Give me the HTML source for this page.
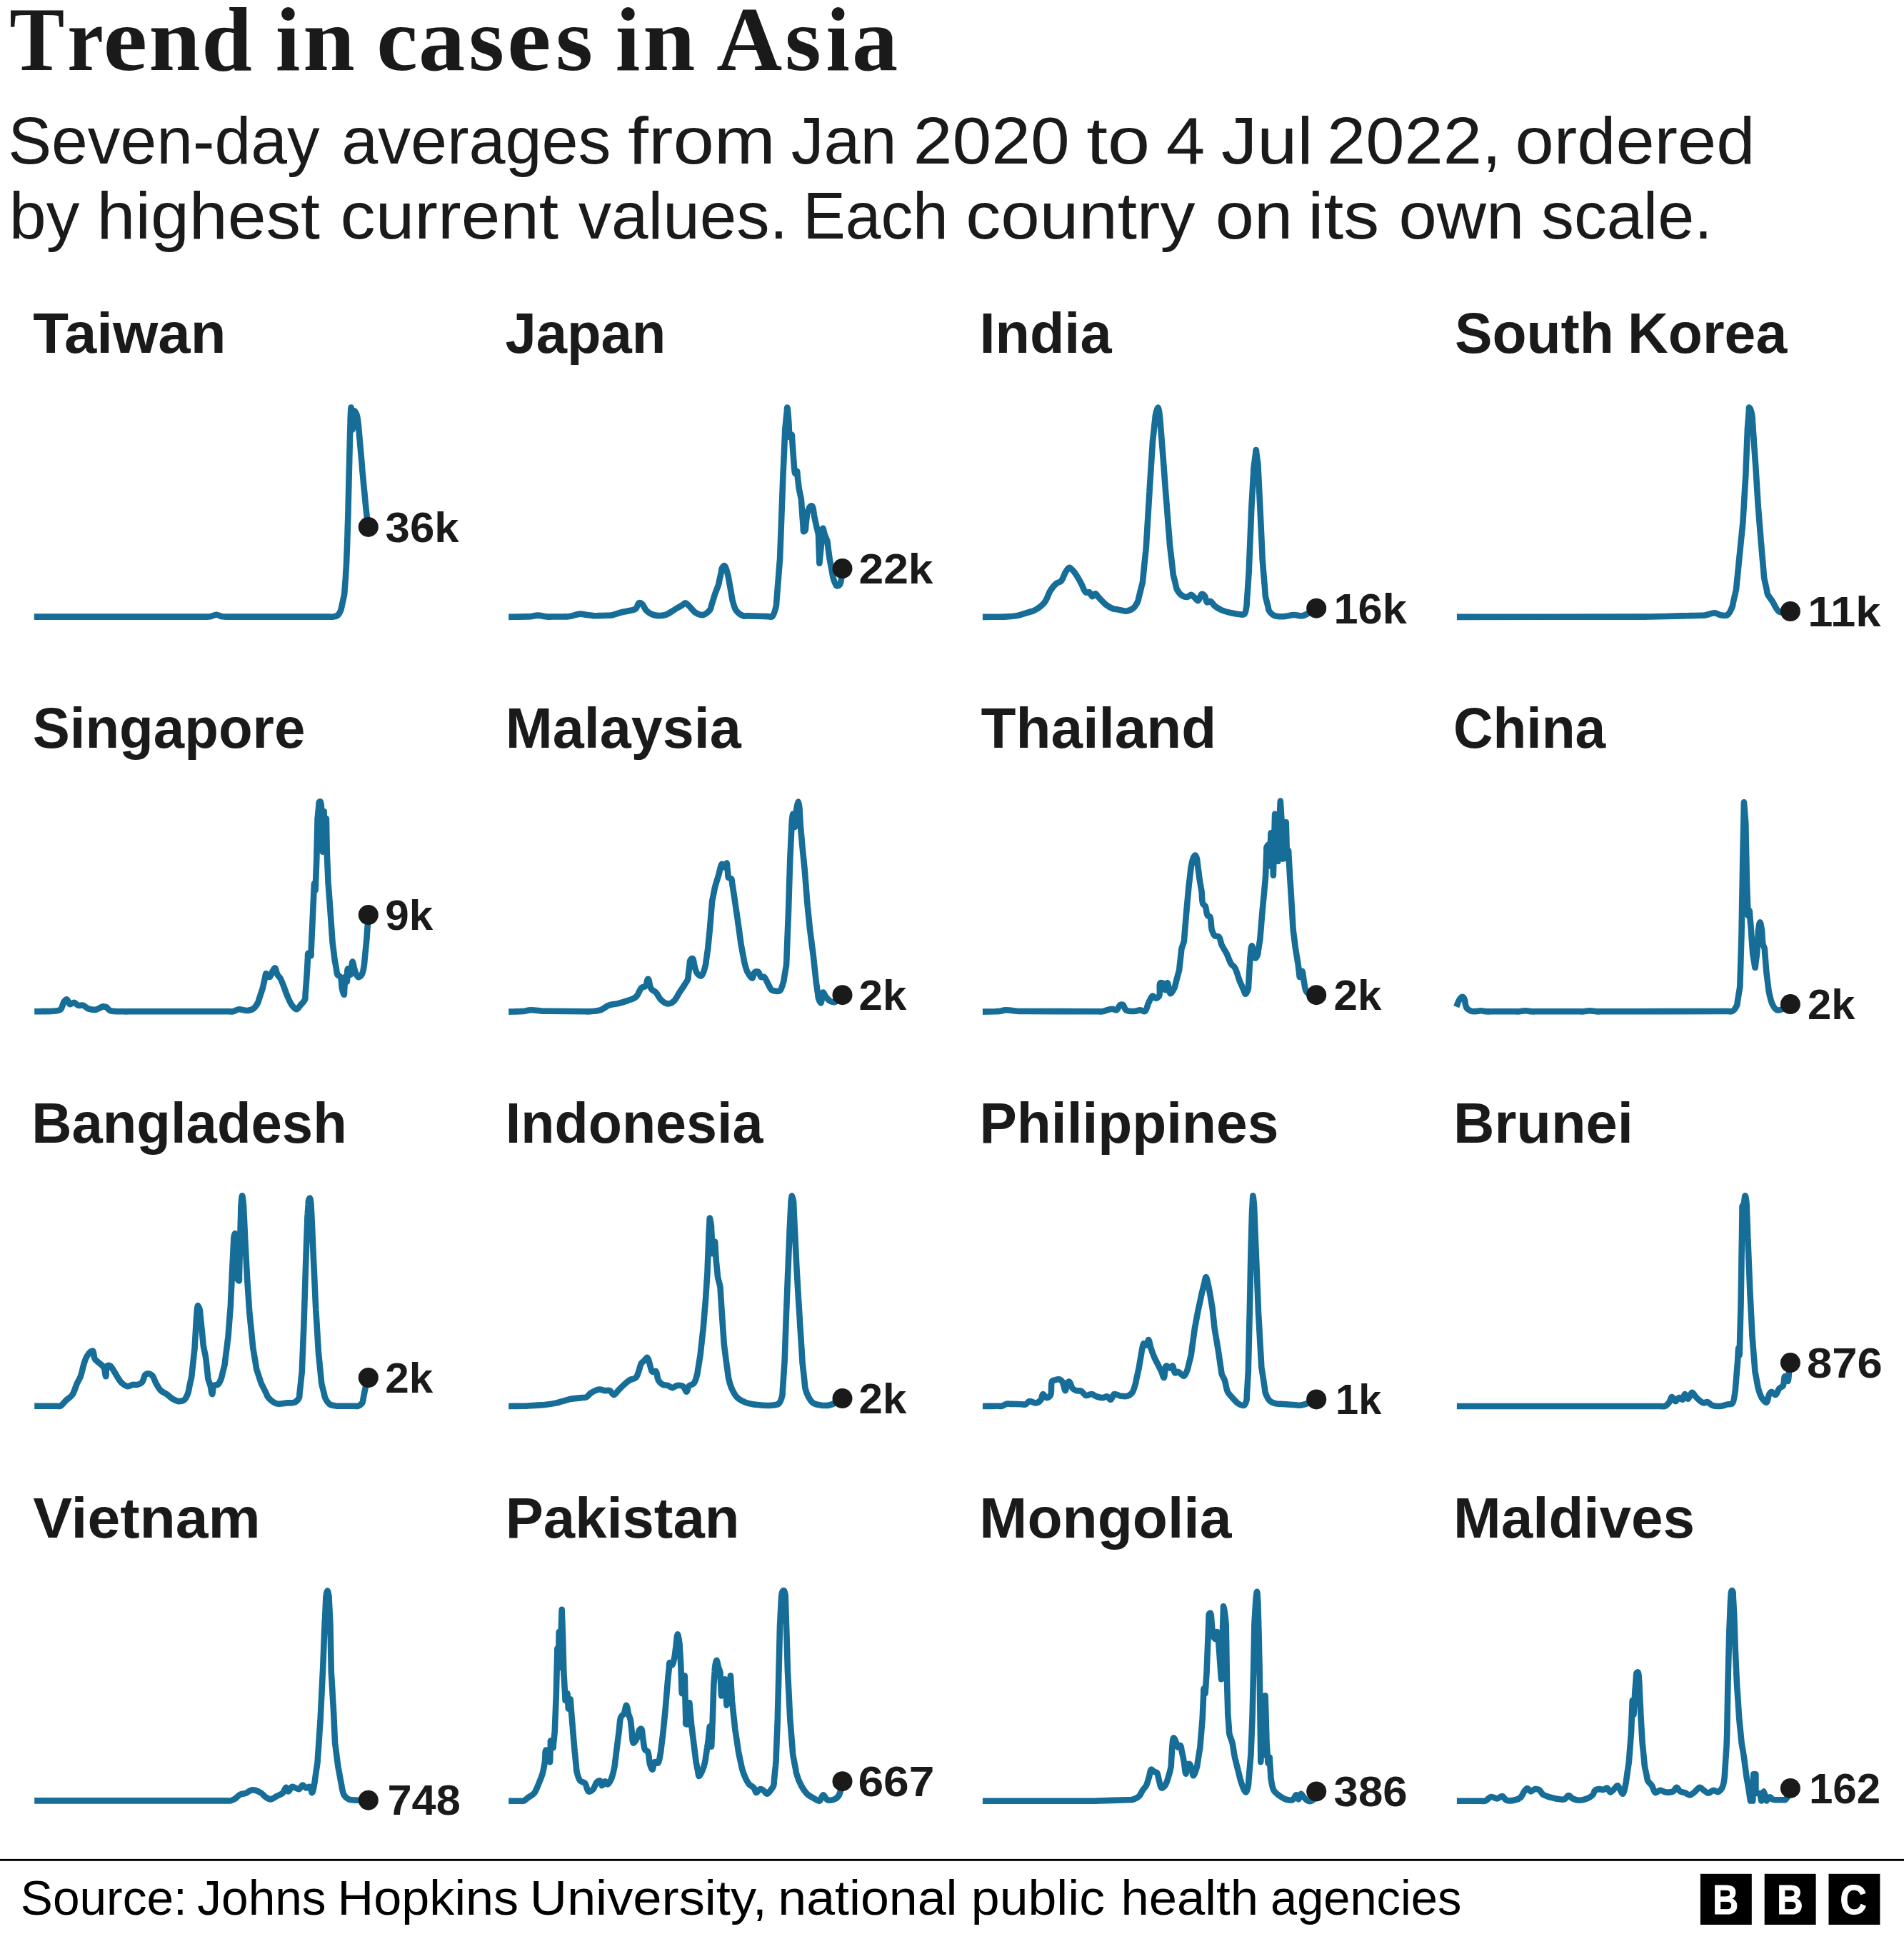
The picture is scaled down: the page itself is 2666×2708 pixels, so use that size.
<!DOCTYPE html>
<html lang="en"><head><meta charset="utf-8"><title>Trend in cases in Asia</title>
<style>html,body{margin:0;padding:0;background:#fff}svg{display:block}text{font-family:"Liberation Sans",sans-serif}</style></head><body>
<svg width="2666" height="2708" viewBox="0 0 2666 2708">
<rect width="2666" height="2708" fill="#fff"/>
<text y="97.80" font-size="127" font-weight="700" fill="#1a1a1a" style="font-family:'Liberation Serif',serif"><tspan x="13.29" textLength="77.06" lengthAdjust="spacingAndGlyphs">T</tspan><tspan x="94.31" textLength="50.62" lengthAdjust="spacingAndGlyphs">r</tspan><tspan x="144.42" textLength="61.67" lengthAdjust="spacingAndGlyphs">e</tspan><tspan x="208.64" textLength="72.13" lengthAdjust="spacingAndGlyphs">n</tspan><tspan x="282.30" textLength="70.63" lengthAdjust="spacingAndGlyphs">d</tspan> <tspan x="385.84" textLength="34.62" lengthAdjust="spacingAndGlyphs">i</tspan><tspan x="424.32" textLength="72.56" lengthAdjust="spacingAndGlyphs">n</tspan> <tspan x="527.31" textLength="57.61" lengthAdjust="spacingAndGlyphs">c</tspan><tspan x="585.99" textLength="65.25" lengthAdjust="spacingAndGlyphs">a</tspan><tspan x="656.18" textLength="49.76" lengthAdjust="spacingAndGlyphs">s</tspan><tspan x="710.03" textLength="61.55" lengthAdjust="spacingAndGlyphs">e</tspan><tspan x="778.14" textLength="52.12" lengthAdjust="spacingAndGlyphs">s</tspan> <tspan x="861.84" textLength="34.62" lengthAdjust="spacingAndGlyphs">i</tspan><tspan x="900.30" textLength="73.09" lengthAdjust="spacingAndGlyphs">n</tspan> <tspan x="1003.30" textLength="92.02" lengthAdjust="spacingAndGlyphs">A</tspan><tspan x="1098.92" textLength="50.77" lengthAdjust="spacingAndGlyphs">s</tspan><tspan x="1156.61" textLength="33.30" lengthAdjust="spacingAndGlyphs">i</tspan><tspan x="1192.96" textLength="64.16" lengthAdjust="spacingAndGlyphs">a</tspan></text>
<text y="228.70" font-size="93" font-weight="400" fill="#1a1a1a" style="font-family:'Liberation Sans',sans-serif"><tspan x="11.17" textLength="436.44" lengthAdjust="spacingAndGlyphs">Seven-day</tspan> <tspan x="478.24" textLength="377.22" lengthAdjust="spacingAndGlyphs">averages</tspan> <tspan x="879.29" textLength="206.59" lengthAdjust="spacingAndGlyphs">from</tspan> <tspan x="1107.71" textLength="147.93" lengthAdjust="spacingAndGlyphs">Jan</tspan> <tspan x="1278.77" textLength="218.91" lengthAdjust="spacingAndGlyphs">2020</tspan> <tspan x="1521.15" textLength="89.13" lengthAdjust="spacingAndGlyphs">to</tspan> <tspan x="1632.89" textLength="54.47" lengthAdjust="spacingAndGlyphs">4</tspan> <tspan x="1709.92" textLength="128.82" lengthAdjust="spacingAndGlyphs">Jul</tspan> <tspan x="1858.10" textLength="244.12" lengthAdjust="spacingAndGlyphs">2022,</tspan> <tspan x="2121.56" textLength="335.94" lengthAdjust="spacingAndGlyphs">ordered</tspan></text>
<text y="333.80" font-size="93" font-weight="400" fill="#1a1a1a" style="font-family:'Liberation Sans',sans-serif"><tspan x="12.88" textLength="98.62" lengthAdjust="spacingAndGlyphs">by</tspan> <tspan x="135.55" textLength="312.38" lengthAdjust="spacingAndGlyphs">highest</tspan> <tspan x="476.63" textLength="305.50" lengthAdjust="spacingAndGlyphs">current</tspan> <tspan x="809.80" textLength="293.40" lengthAdjust="spacingAndGlyphs">values.</tspan> <tspan x="1124.18" textLength="203.62" lengthAdjust="spacingAndGlyphs">Each</tspan> <tspan x="1352.24" textLength="321.23" lengthAdjust="spacingAndGlyphs">country</tspan> <tspan x="1701.86" textLength="108.33" lengthAdjust="spacingAndGlyphs">on</tspan> <tspan x="1831.36" textLength="99.82" lengthAdjust="spacingAndGlyphs">its</tspan> <tspan x="1958.51" textLength="175.89" lengthAdjust="spacingAndGlyphs">own</tspan> <tspan x="2158.03" textLength="239.71" lengthAdjust="spacingAndGlyphs">scale.</tspan></text>
<text y="2681.30" font-size="68" font-weight="400" fill="#000" style="font-family:'Liberation Sans',sans-serif"><tspan x="28.82" textLength="233.04" lengthAdjust="spacingAndGlyphs">Source:</tspan> <tspan x="276.31" textLength="180.38" lengthAdjust="spacingAndGlyphs">Johns</tspan> <tspan x="472.64" textLength="253.42" lengthAdjust="spacingAndGlyphs">Hopkins</tspan> <tspan x="741.68" textLength="332.18" lengthAdjust="spacingAndGlyphs">University,</tspan> <tspan x="1089.38" textLength="251.15" lengthAdjust="spacingAndGlyphs">national</tspan> <tspan x="1359.78" textLength="187.27" lengthAdjust="spacingAndGlyphs">public</tspan> <tspan x="1569.55" textLength="192.42" lengthAdjust="spacingAndGlyphs">health</tspan> <tspan x="1779.04" textLength="267.33" lengthAdjust="spacingAndGlyphs">agencies</tspan></text>
<text y="494.00" font-size="80" font-weight="700" fill="#1a1a1a" style="font-family:'Liberation Sans',sans-serif"><tspan x="46.20" textLength="270.26" lengthAdjust="spacingAndGlyphs">Taiwan</tspan></text>
<text y="494.00" font-size="80" font-weight="700" fill="#1a1a1a" style="font-family:'Liberation Sans',sans-serif"><tspan x="707.53" textLength="224.80" lengthAdjust="spacingAndGlyphs">Japan</tspan></text>
<text y="494.00" font-size="80" font-weight="700" fill="#1a1a1a" style="font-family:'Liberation Sans',sans-serif"><tspan x="1371.44" textLength="185.05" lengthAdjust="spacingAndGlyphs">India</tspan></text>
<text y="494.00" font-size="80" font-weight="700" fill="#1a1a1a" style="font-family:'Liberation Sans',sans-serif"><tspan x="2036.93" textLength="222.85" lengthAdjust="spacingAndGlyphs">South</tspan> <tspan x="2278.98" textLength="223.22" lengthAdjust="spacingAndGlyphs">Korea</tspan></text>
<text y="1047.00" font-size="80" font-weight="700" fill="#1a1a1a" style="font-family:'Liberation Sans',sans-serif"><tspan x="45.65" textLength="381.78" lengthAdjust="spacingAndGlyphs">Singapore</tspan></text>
<text y="1047.00" font-size="80" font-weight="700" fill="#1a1a1a" style="font-family:'Liberation Sans',sans-serif"><tspan x="707.75" textLength="329.94" lengthAdjust="spacingAndGlyphs">Malaysia</tspan></text>
<text y="1047.00" font-size="80" font-weight="700" fill="#1a1a1a" style="font-family:'Liberation Sans',sans-serif"><tspan x="1373.60" textLength="329.68" lengthAdjust="spacingAndGlyphs">Thailand</tspan></text>
<text y="1047.00" font-size="80" font-weight="700" fill="#1a1a1a" style="font-family:'Liberation Sans',sans-serif"><tspan x="2035.12" textLength="213.09" lengthAdjust="spacingAndGlyphs">China</tspan></text>
<text y="1600.00" font-size="80" font-weight="700" fill="#1a1a1a" style="font-family:'Liberation Sans',sans-serif"><tspan x="44.13" textLength="441.61" lengthAdjust="spacingAndGlyphs">Bangladesh</tspan></text>
<text y="1600.00" font-size="80" font-weight="700" fill="#1a1a1a" style="font-family:'Liberation Sans',sans-serif"><tspan x="707.87" textLength="360.64" lengthAdjust="spacingAndGlyphs">Indonesia</tspan></text>
<text y="1600.00" font-size="80" font-weight="700" fill="#1a1a1a" style="font-family:'Liberation Sans',sans-serif"><tspan x="1371.49" textLength="418.96" lengthAdjust="spacingAndGlyphs">Philippines</tspan></text>
<text y="1600.00" font-size="80" font-weight="700" fill="#1a1a1a" style="font-family:'Liberation Sans',sans-serif"><tspan x="2035.03" textLength="251.76" lengthAdjust="spacingAndGlyphs">Brunei</tspan></text>
<text y="2153.00" font-size="80" font-weight="700" fill="#1a1a1a" style="font-family:'Liberation Sans',sans-serif"><tspan x="46.20" textLength="318.55" lengthAdjust="spacingAndGlyphs">Vietnam</tspan></text>
<text y="2153.00" font-size="80" font-weight="700" fill="#1a1a1a" style="font-family:'Liberation Sans',sans-serif"><tspan x="707.72" textLength="327.62" lengthAdjust="spacingAndGlyphs">Pakistan</tspan></text>
<text y="2153.00" font-size="80" font-weight="700" fill="#1a1a1a" style="font-family:'Liberation Sans',sans-serif"><tspan x="1371.37" textLength="353.12" lengthAdjust="spacingAndGlyphs">Mongolia</tspan></text>
<text y="2153.00" font-size="80" font-weight="700" fill="#1a1a1a" style="font-family:'Liberation Sans',sans-serif"><tspan x="2035.00" textLength="337.99" lengthAdjust="spacingAndGlyphs">Maldives</tspan></text>
<text y="758.68" font-size="58.5" font-weight="700" fill="#1a1a1a" style="font-family:'Liberation Sans',sans-serif"><tspan x="539.54" textLength="103.17" lengthAdjust="spacingAndGlyphs">36k</tspan></text>
<text y="816.91" font-size="58.5" font-weight="700" fill="#1a1a1a" style="font-family:'Liberation Sans',sans-serif"><tspan x="1202.47" textLength="104.04" lengthAdjust="spacingAndGlyphs">22k</tspan></text>
<text y="872.50" font-size="58.5" font-weight="700" fill="#1a1a1a" style="font-family:'Liberation Sans',sans-serif"><tspan x="1867.56" textLength="102.15" lengthAdjust="spacingAndGlyphs">16k</tspan></text>
<text y="876.80" font-size="58.5" font-weight="700" fill="#1a1a1a" style="font-family:'Liberation Sans',sans-serif"><tspan x="2531.35" textLength="102.14" lengthAdjust="spacingAndGlyphs">11k</tspan></text>
<text y="1301.78" font-size="58.5" font-weight="700" fill="#1a1a1a" style="font-family:'Liberation Sans',sans-serif"><tspan x="539.24" textLength="67.08" lengthAdjust="spacingAndGlyphs">9k</tspan></text>
<text y="1413.95" font-size="58.5" font-weight="700" fill="#1a1a1a" style="font-family:'Liberation Sans',sans-serif"><tspan x="1202.55" textLength="66.78" lengthAdjust="spacingAndGlyphs">2k</tspan></text>
<text y="1413.95" font-size="58.5" font-weight="700" fill="#1a1a1a" style="font-family:'Liberation Sans',sans-serif"><tspan x="1867.55" textLength="66.78" lengthAdjust="spacingAndGlyphs">2k</tspan></text>
<text y="1426.86" font-size="58.5" font-weight="700" fill="#1a1a1a" style="font-family:'Liberation Sans',sans-serif"><tspan x="2530.95" textLength="66.57" lengthAdjust="spacingAndGlyphs">2k</tspan></text>
<text y="1949.78" font-size="58.5" font-weight="700" fill="#1a1a1a" style="font-family:'Liberation Sans',sans-serif"><tspan x="539.24" textLength="67.08" lengthAdjust="spacingAndGlyphs">2k</tspan></text>
<text y="1978.90" font-size="58.5" font-weight="700" fill="#1a1a1a" style="font-family:'Liberation Sans',sans-serif"><tspan x="1202.55" textLength="66.78" lengthAdjust="spacingAndGlyphs">2k</tspan></text>
<text y="1980.22" font-size="58.5" font-weight="700" fill="#1a1a1a" style="font-family:'Liberation Sans',sans-serif"><tspan x="1870.04" textLength="64.31" lengthAdjust="spacingAndGlyphs">1k</tspan></text>
<text y="1928.93" font-size="58.5" font-weight="700" fill="#1a1a1a" style="font-family:'Liberation Sans',sans-serif"><tspan x="2529.92" textLength="105.75" lengthAdjust="spacingAndGlyphs">876</tspan></text>
<text y="2541.49" font-size="58.5" font-weight="700" fill="#1a1a1a" style="font-family:'Liberation Sans',sans-serif"><tspan x="542.50" textLength="102.31" lengthAdjust="spacingAndGlyphs">748</tspan></text>
<text y="2515.02" font-size="58.5" font-weight="700" fill="#1a1a1a" style="font-family:'Liberation Sans',sans-serif"><tspan x="1201.41" textLength="106.97" lengthAdjust="spacingAndGlyphs">667</tspan></text>
<text y="2529.25" font-size="58.5" font-weight="700" fill="#1a1a1a" style="font-family:'Liberation Sans',sans-serif"><tspan x="1867.54" textLength="103.08" lengthAdjust="spacingAndGlyphs">386</tspan></text>
<text y="2524.68" font-size="58.5" font-weight="700" fill="#1a1a1a" style="font-family:'Liberation Sans',sans-serif"><tspan x="2532.92" textLength="100.26" lengthAdjust="spacingAndGlyphs">162</tspan></text>
<path d="M47.8 863.6 C47.8 863.6 50.4 863.6 53.8 863.6 C75.0 863.6 260.3 863.6 281.5 863.6 C284.9 863.6 285.4 863.7 287.5 863.6 C289.7 863.6 292.1 863.7 294.5 863.3 C297.2 862.8 300.1 860.8 302.9 860.8 C305.7 860.8 308.6 862.8 311.2 863.3 C313.4 863.6 315.3 863.6 317.4 863.6 C319.4 863.7 320.0 863.6 323.4 863.6 C339.2 863.6 445.0 863.6 460.8 863.6 C464.1 863.6 464.9 863.9 466.8 863.6 C468.8 863.3 470.9 863.0 472.5 861.9 C474.2 860.5 475.6 858.2 476.7 855.7 C478.1 852.6 478.6 848.2 479.5 844.3 C480.4 840.2 481.6 835.3 482.1 832.0 C482.5 829.6 482.4 828.3 482.6 826.0 C482.8 822.9 483.2 818.2 483.4 815.1 C483.6 812.8 483.7 811.1 483.9 809.1 C484.0 807.1 484.1 805.3 484.2 803.1 C484.4 800.4 484.6 796.7 484.8 794.0 C484.9 791.8 485.0 790.0 485.1 788.0 C485.2 786.0 485.2 784.6 485.3 782.0 C485.5 777.3 485.9 767.0 486.1 762.3 C486.2 759.8 486.3 758.3 486.3 756.3 C486.4 754.3 486.4 752.9 486.5 750.3 C486.6 746.0 486.9 736.8 487.0 732.4 C487.1 729.9 487.2 728.4 487.2 726.4 C487.3 724.5 487.3 723.2 487.4 720.5 C487.5 714.0 488.0 694.9 488.1 688.5 C488.2 685.7 488.2 684.5 488.3 682.5 C488.3 680.5 488.4 679.3 488.4 676.5 C488.6 670.0 489.0 651.0 489.2 644.5 C489.3 641.7 489.3 640.5 489.3 638.5 C489.4 636.5 489.4 635.0 489.5 632.5 C489.6 628.5 489.8 620.5 489.9 616.4 C489.9 613.9 490.0 612.4 490.0 610.4 C490.1 608.4 490.1 606.8 490.2 604.4 C490.3 601.0 490.5 595.2 490.6 591.8 C490.6 589.4 490.6 588.2 490.7 585.8 C490.9 581.9 491.3 570.6 491.6 570.6 C491.9 570.6 492.4 580.7 492.7 585.8 C493.0 591.0 493.2 601.6 493.6 601.6 C493.9 601.6 494.4 590.5 495.0 585.8 C495.4 581.9 495.4 575.4 496.4 575.2 C497.1 575.1 498.5 578.2 499.4 580.5 C500.7 584.3 501.5 592.3 502.0 596.3 C502.3 598.8 502.3 599.9 502.5 602.3 C502.8 605.7 503.3 611.5 503.6 615.0 C503.8 617.3 503.9 618.4 504.1 620.9 C504.5 625.3 505.3 634.2 505.7 638.5 C505.9 641.0 506.0 642.2 506.2 644.5 C506.5 647.6 506.9 652.3 507.1 655.4 C507.3 657.7 507.4 659.4 507.6 661.4 C507.8 663.4 508.0 665.2 508.2 667.4 C508.4 670.1 508.8 673.8 509.0 676.5 C509.2 678.7 509.4 680.5 509.6 682.5 C509.7 684.5 509.9 686.2 510.2 688.5 C510.5 691.6 510.9 696.3 511.2 699.4 C511.5 701.7 511.6 703.4 511.8 705.3 C512.0 707.3 512.2 709.1 512.4 711.3 C512.7 714.0 513.1 717.8 513.4 720.5 C513.6 722.7 513.6 724.1 514.0 726.4 C514.4 729.7 515.8 737.9 515.8 737.9" fill="none" stroke="#166d97" stroke-width="8.6" stroke-linejoin="round" stroke-linecap="butt"/>
<circle cx="515.8" cy="737.9" r="14" fill="#1a1a1a"/>
<path d="M712.2 863.9 C712.2 863.9 715.7 863.9 718.2 863.8 C722.8 863.7 732.5 863.5 737.0 863.4 C739.6 863.4 740.8 863.5 743.0 863.3 C745.9 863.0 749.4 861.7 752.9 861.6 C757.0 861.6 762.6 863.4 766.2 863.6 C768.6 863.8 769.6 863.6 772.2 863.5 C776.5 863.5 785.6 863.4 790.0 863.4 C792.5 863.3 793.5 863.6 796.0 863.3 C800.1 862.8 808.4 859.8 812.5 859.6 C815.0 859.5 816.3 860.2 818.4 860.4 C820.9 860.8 823.9 861.2 826.4 861.5 C828.5 861.8 830.4 862.2 832.4 862.3 C834.3 862.4 836.0 862.2 838.4 862.1 C841.5 862.0 846.4 861.9 849.5 861.8 C851.8 861.7 853.2 862.0 855.5 861.6 C859.1 861.1 864.3 858.8 868.8 857.7 C873.1 856.6 878.1 856.0 882.0 855.0 C885.1 854.2 888.2 854.1 890.3 852.4 C892.4 850.6 892.8 845.3 894.6 844.4 C895.7 843.8 897.2 844.2 898.5 845.1 C900.8 846.5 902.4 852.4 905.1 855.0 C907.9 857.6 911.2 859.9 915.1 861.0 C919.7 862.3 926.6 862.3 931.6 861.0 C936.5 859.7 940.8 855.7 944.9 853.4 C948.4 851.3 952.1 849.4 954.8 847.7 C956.7 846.5 958.1 844.4 959.7 844.4 C961.4 844.5 962.8 846.7 964.7 848.4 C967.5 850.9 971.0 856.2 974.6 858.3 C977.7 860.1 981.4 861.6 984.6 861.0 C988.0 860.3 992.6 856.0 994.5 853.4 C995.8 851.5 995.6 849.8 996.2 847.6 C997.1 844.7 998.5 840.5 999.3 837.6 C1000.0 835.4 1000.3 834.1 1001.1 831.9 C1002.3 828.3 1005.0 822.2 1006.1 818.6 C1006.7 816.3 1006.8 815.0 1007.3 812.7 C1008.0 809.6 1009.1 804.5 1009.8 801.3 C1010.3 799.0 1010.2 797.0 1011.0 795.5 C1011.8 794.1 1013.3 791.9 1014.3 792.1 C1016.2 792.5 1018.3 801.8 1019.3 805.4 C1019.9 807.7 1019.9 808.6 1020.4 811.3 C1021.4 816.7 1023.9 830.5 1024.8 835.9 C1025.3 838.5 1025.3 839.5 1025.9 841.8 C1026.9 845.3 1028.2 851.5 1030.9 855.0 C1033.3 858.3 1037.8 861.3 1040.8 862.3 C1042.9 863.0 1044.1 862.4 1046.8 862.4 C1052.8 862.6 1069.2 863.0 1075.2 863.1 C1077.9 863.2 1079.5 864.4 1081.2 863.3 C1083.9 861.4 1085.9 852.3 1086.8 848.4 C1087.3 846.0 1087.0 845.4 1087.3 842.4 C1088.0 833.4 1090.9 797.2 1091.6 788.2 C1091.9 785.2 1092.0 784.2 1092.1 782.2 C1092.2 780.2 1092.2 779.4 1092.3 776.2 C1092.8 762.8 1095.7 685.8 1096.2 672.4 C1096.3 669.2 1096.3 668.4 1096.4 666.4 C1096.5 664.4 1096.5 663.4 1096.7 660.4 C1097.1 651.4 1098.7 615.2 1099.1 606.2 C1099.2 603.2 1099.2 602.2 1099.4 600.2 C1099.5 598.2 1099.7 596.8 1100.0 594.3 C1100.4 589.9 1101.3 580.8 1101.8 576.4 C1102.0 573.9 1102.1 570.5 1102.4 570.5 C1102.8 570.5 1104.0 585.6 1104.3 590.3 C1104.5 592.9 1104.5 594.1 1104.6 596.3 C1104.7 599.1 1104.9 603.0 1105.1 605.8 C1105.2 608.0 1104.6 611.5 1105.3 611.8 C1106.0 612.1 1108.0 608.3 1108.6 608.5 C1109.4 608.8 1108.9 611.7 1109.1 614.5 C1109.6 621.0 1111.0 640.7 1111.5 647.2 C1111.7 650.0 1111.7 650.9 1111.9 653.2 C1112.3 656.1 1112.6 662.9 1113.6 663.1 C1114.2 663.2 1115.4 659.7 1115.9 659.8 C1116.5 659.9 1116.3 663.5 1116.6 665.8 C1117.0 668.9 1117.5 673.8 1117.9 677.0 C1118.1 679.3 1118.2 680.5 1118.6 683.0 C1119.2 687.1 1121.3 695.3 1121.9 699.5 C1122.2 702.0 1122.1 703.2 1122.3 705.5 C1122.5 708.6 1122.9 713.5 1123.1 716.7 C1123.3 719.0 1123.4 720.7 1123.5 722.7 C1123.7 724.7 1123.8 726.4 1124.0 728.6 C1124.2 731.5 1124.5 735.4 1124.7 738.2 C1124.9 740.4 1124.5 743.8 1125.2 744.2 C1125.7 744.4 1127.0 743.4 1127.5 742.5 C1128.3 741.2 1127.9 738.9 1128.2 736.6 C1128.5 733.4 1129.1 728.5 1129.5 725.3 C1129.7 723.0 1129.6 721.5 1130.1 719.4 C1130.9 716.4 1132.4 710.9 1134.1 709.4 C1135.1 708.6 1136.5 708.2 1137.4 708.8 C1139.2 710.0 1139.1 718.0 1140.1 722.7 C1141.1 727.5 1142.3 732.9 1143.4 737.5 C1144.3 741.7 1145.6 745.9 1146.0 749.1 C1146.3 751.4 1146.1 752.4 1146.2 755.1 C1146.4 761.0 1147.0 777.0 1147.2 782.8 C1147.2 785.6 1147.2 788.8 1147.4 788.8 C1147.5 788.8 1147.7 785.3 1147.9 782.9 C1148.3 779.1 1149.0 772.1 1149.4 768.3 C1149.6 765.9 1149.8 764.4 1150.0 762.4 C1150.2 760.4 1150.4 758.7 1150.6 756.4 C1150.9 753.4 1151.4 748.9 1151.7 745.8 C1151.9 743.6 1151.9 739.9 1152.3 739.9 C1152.9 739.8 1153.9 746.2 1155.0 749.1 C1155.9 752.0 1157.6 754.8 1158.3 757.4 C1158.8 759.5 1158.8 761.0 1159.1 763.3 C1159.5 766.8 1160.3 772.8 1160.8 776.3 C1161.1 778.6 1161.3 780.2 1161.6 782.2 C1161.9 784.2 1162.2 785.7 1162.7 788.1 C1163.4 791.9 1164.7 799.0 1165.4 802.8 C1165.9 805.2 1165.9 806.4 1166.5 808.7 C1167.5 811.9 1169.4 819.4 1171.5 820.3 C1172.8 820.8 1174.7 819.9 1175.8 818.6 C1177.7 816.4 1178.2 809.4 1178.8 805.4 C1179.3 802.0 1179.5 796.1 1179.5 796.1" fill="none" stroke="#166d97" stroke-width="8.6" stroke-linejoin="round" stroke-linecap="butt"/>
<circle cx="1179.5" cy="796.1" r="14" fill="#1a1a1a"/>
<path d="M1375.9 863.9 C1375.9 863.9 1379.3 863.9 1381.9 863.9 C1386.3 863.8 1395.9 863.7 1400.3 863.7 C1402.9 863.7 1403.7 863.8 1406.3 863.6 C1411.0 863.4 1421.6 862.6 1426.2 861.6 C1428.7 861.1 1429.7 860.5 1431.9 859.9 C1434.8 859.0 1439.1 857.7 1441.9 856.8 C1444.1 856.1 1445.5 856.2 1447.7 855.0 C1451.6 853.0 1458.7 848.1 1462.6 843.4 C1466.4 838.8 1467.8 831.6 1470.8 826.9 C1473.4 823.0 1476.3 819.2 1479.1 817.0 C1481.3 815.3 1483.8 815.6 1485.7 813.7 C1488.5 810.9 1490.1 803.8 1492.4 800.4 C1494.0 798.0 1495.6 794.9 1497.3 794.8 C1498.9 794.7 1500.7 797.2 1502.3 798.8 C1504.1 800.6 1505.6 802.8 1507.2 805.4 C1509.4 808.6 1511.7 813.0 1513.9 817.0 C1516.1 821.0 1517.9 828.1 1520.5 829.5 C1522.0 830.4 1524.0 828.5 1525.4 829.2 C1527.1 830.0 1528.0 835.0 1529.4 835.2 C1530.7 835.3 1532.3 831.1 1533.7 831.2 C1535.4 831.3 1536.7 834.7 1538.7 836.8 C1541.4 839.7 1545.1 844.1 1548.6 846.7 C1551.8 849.1 1555.5 851.3 1558.5 852.4 C1560.9 853.2 1562.6 852.9 1565.1 853.4 C1568.5 853.9 1573.1 856.0 1576.7 855.7 C1580.2 855.4 1583.9 853.9 1586.7 851.7 C1589.5 849.4 1592.0 844.8 1593.3 841.8 C1594.2 839.7 1594.1 838.3 1594.7 836.0 C1595.7 832.1 1597.5 824.9 1598.4 821.1 C1599.0 818.7 1599.5 817.3 1599.9 815.3 C1600.2 813.3 1600.2 812.2 1600.5 809.3 C1601.2 802.2 1603.5 778.8 1604.3 771.6 C1604.5 768.8 1604.7 767.7 1604.9 765.7 C1605.0 763.7 1605.0 762.8 1605.2 759.7 C1605.9 749.1 1608.8 699.6 1609.5 688.9 C1609.6 685.8 1609.7 684.9 1609.8 683.0 C1609.9 681.0 1610.0 680.0 1610.2 677.0 C1610.8 668.0 1613.1 631.8 1613.7 622.8 C1613.9 619.8 1613.9 618.8 1614.1 616.8 C1614.3 614.8 1614.5 613.5 1614.8 610.8 C1615.4 605.4 1616.8 591.7 1617.4 586.3 C1617.7 583.7 1617.6 582.6 1618.1 580.4 C1618.7 577.5 1620.4 570.4 1621.4 570.5 C1622.5 570.5 1623.5 580.1 1624.0 583.7 C1624.4 586.1 1624.3 586.8 1624.5 589.7 C1625.1 596.8 1627.0 620.2 1627.5 627.3 C1627.8 630.2 1627.9 631.3 1628.0 633.3 C1628.2 635.3 1628.2 636.3 1628.5 639.3 C1629.1 648.3 1631.9 684.5 1632.5 693.5 C1632.8 696.5 1632.8 697.5 1633.0 699.5 C1633.1 701.5 1633.2 702.5 1633.5 705.5 C1634.1 714.1 1636.8 747.7 1637.5 756.4 C1637.7 759.4 1637.7 760.4 1637.9 762.4 C1638.1 764.4 1638.3 765.6 1638.6 768.3 C1639.4 774.6 1641.5 793.1 1642.2 799.4 C1642.5 802.2 1642.5 803.4 1642.9 805.4 C1643.3 807.3 1643.8 809.1 1644.4 811.2 C1645.0 813.7 1645.8 816.9 1646.4 819.4 C1646.9 821.5 1646.8 823.2 1647.9 825.2 C1649.4 828.1 1653.2 832.8 1656.1 834.5 C1658.3 835.7 1660.8 836.2 1662.8 835.8 C1664.6 835.5 1666.1 832.7 1667.7 832.8 C1669.4 833.0 1671.0 835.4 1672.7 836.8 C1674.4 838.2 1676.1 841.4 1677.6 841.1 C1679.5 840.8 1680.7 832.4 1682.6 831.9 C1683.9 831.5 1685.7 833.1 1686.9 834.5 C1688.5 836.5 1688.5 842.6 1690.2 843.4 C1691.5 844.0 1693.3 841.4 1694.9 841.8 C1696.9 842.3 1698.4 846.4 1700.8 848.4 C1703.6 850.7 1707.1 852.7 1710.7 854.4 C1714.7 856.1 1719.8 857.4 1724.0 858.3 C1727.5 859.1 1730.7 859.7 1733.9 860.0 C1736.8 860.2 1740.2 861.4 1742.2 860.0 C1744.5 858.2 1744.9 851.6 1745.5 848.4 C1745.9 846.1 1745.7 845.3 1745.9 842.4 C1746.4 835.3 1747.9 811.9 1748.4 804.7 C1748.6 801.9 1748.7 800.8 1748.8 798.8 C1748.9 796.8 1748.9 795.9 1749.0 792.8 C1749.5 782.1 1751.4 732.7 1751.9 722.0 C1752.0 718.9 1752.0 718.0 1752.1 716.0 C1752.2 714.0 1752.3 713.0 1752.4 710.1 C1752.9 701.7 1754.6 670.8 1755.1 662.5 C1755.2 659.5 1755.2 658.5 1755.4 656.5 C1755.6 654.5 1755.8 652.9 1756.1 650.5 C1756.6 646.7 1757.5 639.8 1758.0 636.0 C1758.3 633.5 1758.5 630.0 1758.7 630.0 C1759.0 630.0 1759.2 633.8 1759.5 636.0 C1759.8 638.4 1760.2 641.5 1760.6 643.9 C1760.9 646.0 1761.2 647.9 1761.4 649.9 C1761.5 651.9 1761.5 652.9 1761.7 655.9 C1762.1 664.2 1763.6 695.1 1764.0 703.4 C1764.2 706.4 1764.2 707.4 1764.3 709.4 C1764.4 711.4 1764.5 712.4 1764.6 715.4 C1765.1 725.1 1766.9 766.5 1767.4 776.2 C1767.5 779.3 1767.5 780.2 1767.6 782.2 C1767.8 784.2 1767.9 785.3 1768.1 788.2 C1768.7 795.7 1770.8 821.6 1771.5 829.2 C1771.7 832.1 1771.6 833.2 1771.9 835.2 C1772.3 837.1 1772.9 838.9 1773.4 841.0 C1774.0 843.5 1774.8 846.7 1775.5 849.2 C1776.0 851.3 1775.9 853.1 1776.9 855.0 C1778.2 857.3 1780.6 860.2 1783.5 861.6 C1787.0 863.3 1792.2 863.4 1796.8 863.3 C1801.6 863.2 1807.0 861.1 1811.7 861.0 C1815.8 860.9 1819.8 862.8 1823.2 862.3 C1826.3 861.9 1828.6 860.5 1831.5 859.0 C1835.1 857.1 1843.2 851.7 1843.2 851.7" fill="none" stroke="#166d97" stroke-width="8.6" stroke-linejoin="round" stroke-linecap="butt"/>
<circle cx="1843.2" cy="851.7" r="14" fill="#1a1a1a"/>
<path d="M2039.9 863.9 C2039.9 863.9 2042.5 863.9 2045.9 863.9 C2068.4 863.9 2276.1 863.7 2298.6 863.6 C2302.1 863.6 2302.6 863.6 2304.6 863.6 C2306.6 863.6 2307.7 863.5 2310.6 863.5 C2318.6 863.3 2346.9 862.6 2354.9 862.4 C2357.8 862.4 2358.9 862.3 2360.9 862.3 C2362.9 862.2 2364.4 862.2 2366.9 862.1 C2370.7 862.0 2377.6 861.9 2381.4 861.8 C2383.8 861.7 2385.0 862.0 2387.4 861.6 C2390.9 861.1 2396.5 858.2 2400.6 858.3 C2404.2 858.5 2407.3 861.2 2410.5 861.6 C2413.4 862.0 2416.5 862.4 2418.8 861.0 C2421.7 859.2 2424.1 853.2 2425.4 850.0 C2426.3 847.9 2426.2 846.5 2426.7 844.2 C2427.5 840.7 2428.9 834.6 2429.7 831.1 C2430.2 828.7 2430.7 827.2 2431.0 825.2 C2431.3 823.3 2431.3 822.0 2431.6 819.3 C2432.3 812.9 2434.1 794.5 2434.7 788.2 C2435.0 785.4 2435.1 784.2 2435.3 782.2 C2435.5 780.2 2435.6 779.1 2435.9 776.2 C2436.6 769.1 2439.0 745.7 2439.7 738.6 C2440.0 735.7 2440.1 734.6 2440.3 732.6 C2440.5 730.6 2440.5 729.6 2440.7 726.6 C2441.2 717.6 2443.4 681.4 2443.9 672.4 C2444.1 669.4 2444.2 668.4 2444.3 666.4 C2444.4 664.4 2444.4 663.4 2444.5 660.4 C2444.9 651.4 2446.3 615.2 2446.7 606.2 C2446.8 603.2 2446.8 602.2 2446.9 600.2 C2447.0 598.2 2447.2 596.8 2447.4 594.3 C2447.7 589.9 2448.4 580.8 2448.8 576.4 C2449.0 573.9 2448.7 570.6 2449.2 570.5 C2449.7 570.3 2450.9 572.8 2451.5 574.4 C2452.5 576.8 2453.1 580.9 2453.5 583.7 C2453.8 585.9 2453.8 587.1 2453.9 589.7 C2454.2 594.0 2454.8 603.1 2455.1 607.5 C2455.3 610.0 2455.4 611.5 2455.5 613.5 C2455.7 615.5 2455.7 616.7 2455.9 619.5 C2456.4 625.8 2457.6 644.2 2458.1 650.5 C2458.3 653.3 2458.4 654.5 2458.5 656.5 C2458.6 658.5 2458.7 659.6 2458.9 662.5 C2459.3 670.0 2461.0 695.9 2461.4 703.4 C2461.6 706.3 2461.7 707.4 2461.8 709.4 C2461.9 711.4 2462.1 712.5 2462.3 715.4 C2462.9 723.0 2465.0 748.8 2465.6 756.4 C2465.9 759.3 2465.9 760.4 2466.1 762.4 C2466.3 764.4 2466.4 765.5 2466.6 768.3 C2467.2 775.1 2469.0 796.0 2469.6 802.7 C2469.8 805.5 2469.8 806.7 2470.1 808.7 C2470.4 810.7 2470.8 812.3 2471.3 814.6 C2472.0 817.7 2473.1 822.8 2473.8 826.0 C2474.3 828.3 2474.1 829.7 2475.0 831.9 C2476.3 834.8 2479.2 838.1 2481.7 841.8 C2484.6 846.2 2487.1 854.4 2491.6 856.7 C2495.7 858.8 2506.9 856.0 2506.9 856.0" fill="none" stroke="#166d97" stroke-width="8.6" stroke-linejoin="round" stroke-linecap="butt"/>
<circle cx="2506.9" cy="856.0" r="14" fill="#1a1a1a"/>
<path d="M48.2 1416.3 C48.2 1416.3 51.9 1416.3 54.2 1416.2 C57.4 1416.2 62.2 1416.1 65.4 1416.1 C67.7 1416.0 69.0 1416.2 71.4 1416.0 C75.0 1415.6 81.6 1416.0 84.6 1413.7 C87.5 1411.4 87.7 1405.2 89.6 1402.7 C90.8 1401.1 92.3 1399.3 93.6 1399.4 C95.1 1399.7 96.0 1405.5 97.9 1406.1 C99.5 1406.6 101.9 1403.5 103.8 1403.7 C105.8 1404.0 107.4 1407.1 109.4 1407.7 C111.5 1408.4 113.8 1407.1 116.1 1407.7 C118.8 1408.5 121.3 1411.7 124.3 1412.7 C127.4 1413.7 131.0 1414.2 134.3 1413.7 C137.6 1413.1 141.4 1409.7 144.2 1409.4 C146.1 1409.2 147.6 1409.6 149.2 1410.4 C150.9 1411.3 151.6 1413.9 154.1 1415.0 C158.3 1416.8 169.3 1416.2 174.0 1416.3 C176.5 1416.4 176.7 1416.3 180.0 1416.3 C196.0 1416.3 304.2 1416.3 320.2 1416.3 C323.5 1416.3 324.1 1416.7 326.2 1416.3 C328.7 1415.9 331.4 1413.6 334.4 1413.3 C337.9 1413.0 342.5 1415.2 346.0 1415.0 C349.0 1414.8 351.9 1414.3 354.3 1412.7 C357.0 1410.9 359.5 1407.0 360.9 1404.4 C362.0 1402.4 362.1 1400.8 362.8 1398.7 C363.7 1396.2 364.8 1392.8 365.6 1390.2 C366.3 1388.2 367.0 1386.5 367.5 1384.5 C368.1 1382.6 368.4 1380.9 368.9 1378.7 C369.5 1375.9 370.5 1371.7 371.2 1368.9 C371.7 1366.7 371.5 1363.3 372.5 1363.0 C373.5 1362.7 376.0 1368.2 377.5 1368.0 C379.2 1367.7 380.3 1362.0 381.8 1359.7 C382.9 1358.0 384.1 1355.3 385.1 1355.4 C386.4 1355.6 387.0 1362.2 388.4 1364.7 C389.5 1366.7 391.1 1367.6 392.4 1369.7 C394.1 1372.6 395.7 1377.2 397.3 1381.2 C399.0 1385.5 400.4 1390.1 402.3 1394.5 C404.2 1398.9 406.3 1404.4 408.9 1407.7 C410.9 1410.2 413.5 1413.5 415.5 1413.3 C417.4 1413.2 418.7 1409.8 420.5 1407.7 C422.6 1405.2 426.0 1402.1 427.1 1399.4 C427.9 1397.4 427.3 1396.0 427.5 1393.5 C427.9 1388.8 428.6 1378.6 429.0 1374.0 C429.2 1371.4 429.3 1370.0 429.4 1368.0 C429.5 1366.0 429.6 1364.6 429.8 1362.0 C430.1 1357.1 430.7 1345.8 431.0 1340.9 C431.2 1338.3 430.6 1335.3 431.4 1334.9 C432.1 1334.6 434.6 1338.5 435.4 1338.2 C436.2 1337.9 435.5 1334.9 435.6 1332.2 C435.9 1326.8 436.5 1313.2 436.7 1307.8 C436.9 1305.2 436.9 1303.8 437.0 1301.8 C437.1 1299.8 437.2 1298.8 437.3 1295.8 C437.7 1287.0 439.3 1252.1 439.7 1243.3 C439.9 1240.3 439.7 1237.3 440.0 1237.3 C440.3 1237.3 441.4 1246.3 441.7 1246.2 C441.9 1246.2 441.8 1243.0 441.9 1240.2 C442.1 1233.8 442.8 1215.0 443.1 1208.6 C443.2 1205.8 443.2 1204.6 443.3 1202.6 C443.4 1200.6 443.4 1199.5 443.4 1196.6 C443.6 1188.6 444.3 1160.3 444.5 1152.3 C444.6 1149.4 444.5 1148.3 444.6 1146.3 C444.8 1144.3 445.0 1142.6 445.2 1140.3 C445.5 1137.2 446.0 1132.3 446.4 1129.1 C446.6 1126.8 446.2 1124.1 446.9 1123.2 C447.3 1122.6 448.1 1122.2 448.6 1122.5 C449.9 1123.3 450.0 1132.7 450.3 1136.4 C450.4 1138.8 450.3 1139.5 450.4 1142.4 C450.7 1150.3 451.5 1178.7 451.7 1186.6 C451.8 1189.6 451.9 1192.6 451.9 1192.6 C452.0 1192.6 452.0 1189.6 452.1 1186.6 C452.3 1178.7 453.2 1150.3 453.4 1142.4 C453.5 1139.5 453.5 1136.4 453.6 1136.4 C453.6 1136.4 453.7 1139.6 453.8 1142.4 C454.0 1149.1 454.8 1170.0 455.0 1176.7 C455.1 1179.5 455.1 1182.7 455.2 1182.7 C455.3 1182.7 455.4 1179.4 455.5 1176.7 C455.7 1171.3 456.4 1157.7 456.6 1152.3 C456.7 1149.6 456.8 1146.3 456.9 1146.3 C456.9 1146.3 456.9 1149.5 457.0 1152.3 C457.1 1159.5 457.6 1182.8 457.7 1189.9 C457.8 1192.8 457.8 1193.9 457.9 1195.9 C457.9 1197.9 458.0 1199.2 458.1 1201.9 C458.4 1207.8 459.0 1223.8 459.3 1229.7 C459.4 1232.4 459.4 1233.7 459.5 1235.7 C459.6 1237.6 459.8 1238.9 460.0 1241.6 C460.4 1247.5 461.6 1263.5 462.1 1269.4 C462.3 1272.1 462.4 1273.4 462.5 1275.4 C462.6 1277.4 462.7 1278.6 462.9 1281.3 C463.4 1287.7 464.6 1306.1 465.1 1312.4 C465.3 1315.2 465.3 1316.4 465.5 1318.4 C465.7 1320.4 465.9 1321.9 466.2 1324.3 C466.7 1328.1 467.6 1335.1 468.0 1338.9 C468.3 1341.3 468.5 1342.9 468.8 1344.8 C469.1 1346.8 469.5 1348.6 469.9 1350.7 C470.3 1353.2 470.9 1356.3 471.3 1358.8 C471.7 1360.9 471.5 1363.1 472.4 1364.7 C473.3 1366.2 475.7 1366.2 476.7 1368.0 C478.6 1371.2 478.0 1380.0 479.0 1384.5 C479.8 1387.8 481.2 1392.9 481.7 1392.8 C482.1 1392.8 481.9 1389.2 482.1 1386.8 C482.3 1383.4 482.7 1377.5 482.9 1374.0 C483.1 1371.6 482.9 1368.1 483.3 1368.0 C483.8 1367.9 485.1 1374.7 485.7 1374.6 C486.6 1374.5 485.7 1356.7 487.0 1356.4 C487.9 1356.3 489.9 1364.9 491.0 1364.7 C492.4 1364.5 492.5 1346.6 493.6 1346.5 C494.5 1346.5 495.2 1354.4 496.6 1358.1 C497.9 1361.6 499.5 1367.5 501.5 1368.0 C503.0 1368.4 505.2 1366.5 506.5 1364.7 C508.5 1361.9 509.2 1355.0 509.8 1351.5 C510.2 1349.1 510.2 1348.1 510.4 1345.5 C510.9 1340.6 512.0 1329.2 512.5 1324.3 C512.8 1321.7 513.0 1320.4 513.1 1318.4 C513.3 1316.4 513.4 1315.1 513.6 1312.4 C513.9 1306.9 515.0 1292.5 515.4 1287.0 C515.6 1284.3 515.8 1281.0 515.8 1281.0" fill="none" stroke="#166d97" stroke-width="8.6" stroke-linejoin="round" stroke-linecap="butt"/>
<circle cx="515.8" cy="1281.0" r="14" fill="#1a1a1a"/>
<path d="M712.2 1416.6 C712.2 1416.6 716.0 1416.5 718.2 1416.5 C720.9 1416.4 724.4 1416.3 727.1 1416.2 C729.3 1416.1 730.8 1416.2 733.1 1416.0 C736.0 1415.7 739.3 1414.5 743.0 1414.3 C747.8 1414.1 755.4 1415.5 759.6 1415.7 C762.1 1415.8 762.6 1415.7 765.6 1415.7 C774.6 1415.8 810.7 1416.2 819.7 1416.3 C822.7 1416.3 823.3 1416.5 825.7 1416.3 C829.6 1416.1 836.1 1415.9 840.6 1414.3 C844.9 1412.9 848.1 1409.3 852.2 1407.7 C856.4 1406.2 861.1 1406.2 865.4 1405.1 C869.9 1404.0 874.5 1402.6 878.7 1401.1 C882.7 1399.6 887.1 1398.9 890.3 1396.1 C893.8 1393.1 895.7 1385.1 898.5 1382.9 C900.2 1381.6 902.1 1382.5 903.5 1381.2 C905.5 1379.3 906.2 1370.6 907.5 1370.7 C908.9 1370.7 909.5 1381.3 911.8 1384.5 C913.5 1387.0 916.3 1387.4 918.4 1389.5 C920.8 1392.1 922.6 1396.9 925.0 1399.4 C927.0 1401.6 929.3 1403.5 931.6 1404.4 C933.7 1405.2 936.2 1405.6 938.2 1405.1 C940.4 1404.5 942.3 1403.0 944.2 1401.1 C946.8 1398.4 949.1 1393.2 951.5 1389.5 C953.7 1386.1 956.1 1382.8 958.1 1379.6 C959.9 1376.7 962.1 1373.9 963.1 1371.3 C963.8 1369.2 963.5 1367.8 963.8 1365.4 C964.3 1361.6 965.1 1354.6 965.6 1350.8 C965.9 1348.4 965.5 1346.3 966.4 1344.8 C967.1 1343.6 968.7 1341.9 969.7 1342.2 C971.3 1342.7 971.7 1351.1 973.0 1354.8 C974.0 1357.9 974.6 1361.1 976.3 1363.0 C977.7 1364.7 980.3 1366.9 981.9 1366.4 C984.5 1365.5 986.8 1355.4 987.9 1351.5 C988.5 1349.1 988.4 1347.8 988.7 1345.5 C989.2 1342.4 989.9 1337.4 990.3 1334.2 C990.7 1331.9 990.9 1330.3 991.2 1328.3 C991.4 1326.3 991.5 1324.8 991.8 1322.3 C992.2 1318.5 992.8 1311.6 993.2 1307.8 C993.5 1305.4 993.6 1303.8 993.8 1301.8 C994.0 1299.8 994.1 1298.6 994.3 1295.9 C994.8 1290.0 996.1 1274.0 996.6 1268.1 C996.9 1265.4 996.9 1264.1 997.1 1262.1 C997.4 1260.1 997.9 1258.4 998.3 1256.2 C998.8 1253.8 999.4 1250.6 999.9 1248.2 C1000.3 1246.0 1000.5 1244.7 1001.1 1242.3 C1002.1 1238.1 1004.4 1231.2 1006.1 1225.7 C1007.7 1220.4 1009.2 1210.2 1011.0 1209.8 C1012.1 1209.7 1013.3 1214.2 1014.3 1214.1 C1015.5 1214.1 1017.0 1208.4 1017.6 1208.5 C1018.3 1208.7 1018.1 1212.3 1018.3 1214.5 C1018.6 1217.1 1019.0 1220.5 1019.3 1223.1 C1019.5 1225.2 1019.0 1227.8 1020.0 1229.0 C1020.8 1230.1 1023.4 1229.6 1024.3 1230.7 C1025.3 1231.9 1024.8 1234.4 1025.2 1236.6 C1025.6 1239.4 1026.2 1243.4 1026.7 1246.3 C1027.0 1248.5 1027.3 1250.2 1027.6 1252.2 C1027.9 1254.2 1028.1 1255.5 1028.5 1258.1 C1029.2 1263.0 1030.9 1274.5 1031.6 1279.4 C1032.0 1281.9 1032.3 1283.3 1032.5 1285.3 C1032.8 1287.3 1033.0 1288.6 1033.3 1291.2 C1034.1 1296.6 1036.0 1310.3 1036.7 1315.7 C1037.1 1318.4 1037.2 1319.7 1037.5 1321.7 C1037.8 1323.7 1038.2 1325.2 1038.6 1327.6 C1039.3 1331.4 1040.6 1338.5 1041.4 1342.3 C1041.8 1344.7 1041.9 1345.8 1042.5 1348.2 C1043.4 1351.7 1044.7 1357.6 1046.8 1361.4 C1048.5 1364.7 1051.7 1369.9 1053.4 1369.7 C1054.9 1369.4 1055.0 1362.7 1056.7 1361.4 C1057.9 1360.4 1060.0 1360.1 1061.3 1360.7 C1063.1 1361.6 1063.9 1367.0 1065.6 1368.0 C1066.9 1368.7 1068.6 1367.2 1069.9 1368.0 C1072.1 1369.3 1073.7 1374.8 1075.6 1377.9 C1077.2 1380.8 1078.3 1384.6 1080.5 1386.2 C1082.3 1387.6 1085.1 1387.7 1087.1 1387.9 C1088.9 1388.0 1090.7 1388.3 1092.1 1387.2 C1094.4 1385.4 1096.1 1378.1 1097.1 1374.6 C1097.7 1372.3 1097.7 1371.0 1098.1 1368.7 C1098.6 1365.5 1099.5 1360.5 1100.0 1357.4 C1100.4 1355.1 1100.8 1353.4 1101.0 1351.5 C1101.2 1349.5 1101.1 1348.5 1101.3 1345.5 C1101.6 1336.4 1103.1 1300.3 1103.4 1291.3 C1103.6 1288.3 1103.6 1287.3 1103.7 1285.3 C1103.7 1283.3 1103.8 1282.4 1103.9 1279.3 C1104.2 1268.7 1105.8 1219.2 1106.1 1208.6 C1106.2 1205.5 1106.2 1204.6 1106.3 1202.6 C1106.4 1200.6 1106.5 1199.4 1106.6 1196.6 C1106.9 1189.4 1108.0 1166.1 1108.4 1158.9 C1108.5 1156.1 1108.4 1155.3 1108.6 1152.9 C1108.9 1149.4 1109.7 1139.7 1110.3 1139.7 C1111.0 1139.7 1112.4 1157.9 1112.9 1157.9 C1113.2 1157.9 1113.3 1154.3 1113.5 1151.9 C1113.8 1148.4 1114.4 1142.5 1114.7 1139.1 C1114.9 1136.7 1114.9 1135.3 1115.3 1133.1 C1115.7 1130.0 1116.9 1122.5 1117.6 1122.5 C1118.3 1122.5 1119.2 1130.0 1119.6 1133.1 C1119.8 1135.3 1119.8 1136.8 1119.9 1139.1 C1120.1 1142.2 1120.4 1147.1 1120.5 1150.3 C1120.7 1152.6 1120.7 1154.2 1120.9 1156.2 C1121.0 1158.2 1121.2 1159.7 1121.4 1162.2 C1121.8 1166.6 1122.6 1175.7 1123.0 1180.0 C1123.2 1182.6 1123.3 1184.0 1123.5 1186.0 C1123.7 1188.0 1123.9 1189.4 1124.1 1192.0 C1124.6 1196.9 1125.8 1208.2 1126.2 1213.1 C1126.5 1215.7 1126.7 1217.1 1126.8 1219.1 C1127.0 1221.1 1127.1 1222.3 1127.3 1225.1 C1127.8 1231.4 1129.2 1249.8 1129.7 1256.1 C1129.9 1258.9 1130.0 1260.1 1130.1 1262.1 C1130.3 1264.1 1130.5 1265.4 1130.7 1268.1 C1131.3 1274.0 1132.9 1290.0 1133.5 1295.9 C1133.8 1298.6 1133.9 1299.8 1134.1 1301.8 C1134.3 1303.8 1134.6 1305.2 1134.9 1307.8 C1135.5 1312.7 1137.0 1324.1 1137.6 1329.0 C1138.0 1331.6 1138.2 1332.9 1138.4 1334.9 C1138.7 1336.9 1138.8 1338.2 1139.1 1340.9 C1139.7 1346.7 1141.4 1362.8 1142.1 1368.7 C1142.4 1371.4 1142.5 1372.6 1142.7 1374.6 C1143.0 1376.6 1143.2 1378.3 1143.6 1380.6 C1144.0 1383.7 1144.7 1388.7 1145.2 1391.8 C1145.5 1394.1 1145.4 1395.8 1146.0 1397.8 C1146.7 1400.0 1148.4 1404.5 1149.3 1404.4 C1150.7 1404.2 1151.1 1389.8 1152.6 1389.5 C1153.7 1389.3 1154.9 1394.1 1156.6 1396.1 C1158.4 1398.3 1160.8 1401.0 1163.2 1402.1 C1165.3 1403.0 1167.6 1403.5 1169.9 1402.7 C1173.0 1401.6 1179.5 1393.2 1179.5 1393.2" fill="none" stroke="#166d97" stroke-width="8.6" stroke-linejoin="round" stroke-linecap="butt"/>
<circle cx="1179.5" cy="1393.2" r="14" fill="#1a1a1a"/>
<path d="M1375.9 1416.6 C1375.9 1416.6 1379.5 1416.5 1381.9 1416.5 C1385.2 1416.4 1390.4 1416.2 1393.7 1416.2 C1396.0 1416.1 1397.6 1416.2 1399.7 1416.0 C1402.3 1415.7 1404.7 1414.5 1408.0 1414.3 C1412.8 1414.1 1421.7 1415.8 1426.2 1416.0 C1428.7 1416.1 1428.9 1416.0 1432.2 1416.0 C1445.7 1416.0 1524.1 1416.3 1537.6 1416.3 C1540.9 1416.3 1541.3 1416.6 1543.6 1416.3 C1547.2 1415.8 1553.2 1412.7 1556.9 1412.7 C1559.5 1412.6 1561.6 1415.0 1563.5 1414.3 C1565.6 1413.5 1566.6 1408.0 1568.5 1407.0 C1569.7 1406.4 1571.2 1406.4 1572.4 1407.0 C1574.2 1408.0 1574.4 1412.8 1576.7 1414.3 C1579.4 1416.1 1584.8 1416.1 1588.3 1416.0 C1591.3 1415.9 1594.0 1414.3 1596.6 1414.3 C1598.9 1414.4 1601.4 1416.9 1603.2 1416.0 C1605.6 1414.8 1606.3 1408.1 1608.2 1404.4 C1610.0 1400.9 1612.1 1394.8 1614.1 1394.5 C1615.4 1394.3 1616.7 1397.7 1618.1 1397.8 C1619.6 1397.9 1621.9 1396.4 1623.1 1394.5 C1625.1 1391.0 1622.5 1377.7 1624.7 1376.3 C1625.9 1375.5 1628.5 1376.7 1629.7 1377.9 C1631.2 1379.5 1631.2 1386.2 1632.0 1386.2 C1632.8 1386.2 1633.6 1376.3 1634.6 1376.3 C1635.9 1376.3 1637.0 1390.9 1638.9 1391.2 C1640.5 1391.4 1643.4 1385.5 1644.6 1382.9 C1645.5 1380.9 1645.5 1379.4 1646.1 1377.1 C1647.0 1373.6 1648.7 1367.4 1649.6 1363.9 C1650.3 1361.6 1650.8 1360.0 1651.2 1358.1 C1651.5 1356.1 1651.6 1354.6 1651.8 1352.1 C1652.3 1347.8 1653.3 1338.6 1653.8 1334.3 C1654.1 1331.7 1654.0 1330.5 1654.5 1328.3 C1655.1 1325.4 1657.2 1321.3 1657.8 1318.4 C1658.2 1316.2 1658.1 1315.1 1658.3 1312.4 C1658.8 1306.5 1660.1 1290.5 1660.6 1284.6 C1660.8 1281.9 1660.9 1280.7 1661.1 1278.7 C1661.3 1276.7 1661.4 1275.4 1661.6 1272.7 C1662.1 1267.3 1663.4 1253.6 1663.9 1248.2 C1664.1 1245.6 1664.2 1244.3 1664.4 1242.3 C1664.6 1240.3 1664.8 1238.8 1665.1 1236.3 C1665.6 1232.2 1666.5 1224.2 1667.0 1220.1 C1667.3 1217.6 1667.3 1216.5 1667.7 1214.1 C1668.4 1210.6 1669.6 1203.8 1671.0 1200.9 C1671.8 1199.3 1672.9 1197.5 1673.7 1197.6 C1674.6 1197.7 1675.5 1200.8 1676.0 1202.6 C1676.5 1204.4 1676.4 1206.1 1676.7 1208.5 C1677.2 1212.3 1678.1 1219.3 1678.6 1223.1 C1678.9 1225.5 1679.0 1227.1 1679.3 1229.0 C1679.6 1231.0 1679.9 1232.8 1680.3 1235.0 C1680.7 1237.4 1681.2 1240.5 1681.6 1243.0 C1682.0 1245.1 1682.3 1246.4 1682.6 1248.9 C1683.2 1253.0 1682.7 1262.2 1684.3 1265.4 C1685.1 1267.2 1686.6 1267.1 1687.6 1268.7 C1689.2 1271.6 1689.1 1279.8 1690.9 1282.0 C1691.8 1283.1 1693.3 1282.4 1694.2 1283.6 C1696.2 1286.4 1695.4 1297.0 1696.8 1301.8 C1697.9 1305.2 1698.9 1308.5 1700.8 1310.1 C1702.4 1311.4 1705.2 1310.3 1706.8 1311.8 C1708.9 1313.8 1709.0 1319.6 1710.7 1323.3 C1712.5 1327.3 1715.2 1330.8 1717.4 1334.9 C1719.7 1339.5 1721.6 1346.3 1724.0 1349.8 C1725.5 1352.1 1727.4 1352.4 1728.9 1354.8 C1731.5 1358.8 1733.8 1368.7 1735.6 1373.0 C1736.5 1375.4 1737.1 1376.5 1738.0 1378.5 C1739.0 1380.9 1740.4 1383.9 1741.4 1386.3 C1742.3 1388.3 1742.9 1391.8 1743.8 1391.8 C1744.9 1391.9 1747.1 1386.9 1747.8 1384.5 C1748.4 1382.5 1748.0 1381.3 1748.2 1378.6 C1748.6 1372.2 1749.7 1353.8 1750.1 1347.5 C1750.2 1344.8 1750.2 1344.0 1750.4 1341.5 C1750.9 1337.3 1751.7 1324.4 1752.8 1324.3 C1753.5 1324.3 1754.6 1330.3 1755.4 1333.3 C1756.2 1336.1 1756.6 1341.4 1757.7 1341.5 C1758.6 1341.7 1760.3 1338.4 1761.0 1336.6 C1761.7 1334.8 1761.6 1332.9 1761.9 1330.6 C1762.4 1327.8 1763.0 1323.8 1763.4 1321.0 C1763.8 1318.8 1764.1 1317.0 1764.3 1315.1 C1764.6 1313.1 1764.6 1311.8 1764.8 1309.1 C1765.3 1303.2 1766.7 1287.2 1767.1 1281.3 C1767.4 1278.6 1767.5 1277.4 1767.6 1275.4 C1767.8 1273.4 1767.9 1272.2 1768.2 1269.4 C1768.8 1262.6 1770.8 1241.8 1771.4 1235.0 C1771.7 1232.2 1771.8 1231.0 1771.9 1229.0 C1772.1 1227.0 1772.1 1225.8 1772.2 1223.0 C1772.4 1216.7 1773.1 1198.3 1773.4 1192.0 C1773.5 1189.2 1773.0 1187.6 1773.6 1186.0 C1774.1 1184.7 1775.7 1182.5 1776.2 1182.7 C1776.9 1182.9 1776.4 1186.2 1776.5 1188.7 C1776.7 1193.1 1777.1 1202.1 1777.3 1206.5 C1777.4 1209.0 1777.5 1212.5 1777.6 1212.5 C1777.7 1212.5 1777.7 1209.3 1777.8 1206.5 C1778.1 1199.8 1779.0 1178.9 1779.3 1172.2 C1779.4 1169.3 1779.4 1166.2 1779.6 1166.2 C1779.7 1166.2 1779.8 1169.6 1780.0 1172.1 C1780.4 1176.5 1781.1 1185.6 1781.4 1190.0 C1781.6 1192.5 1781.8 1194.0 1781.9 1195.9 C1782.0 1197.9 1782.0 1199.4 1782.1 1201.9 C1782.2 1206.3 1782.5 1215.4 1782.7 1219.7 C1782.8 1222.3 1782.8 1225.7 1782.9 1225.7 C1782.9 1225.7 1782.9 1222.8 1783.0 1219.7 C1783.3 1208.8 1784.7 1156.6 1785.0 1145.7 C1785.1 1142.6 1785.1 1139.7 1785.2 1139.7 C1785.3 1139.7 1785.3 1142.9 1785.5 1145.7 C1785.8 1152.4 1786.9 1173.3 1787.2 1180.0 C1787.3 1182.8 1787.3 1183.4 1787.5 1186.0 C1787.9 1190.7 1789.2 1205.9 1789.5 1205.9 C1789.7 1205.9 1789.6 1202.6 1789.7 1199.9 C1789.9 1194.5 1790.4 1180.9 1790.6 1175.5 C1790.7 1172.8 1790.7 1171.5 1790.8 1169.5 C1790.9 1167.5 1790.9 1166.3 1791.1 1163.5 C1791.3 1156.5 1792.3 1134.4 1792.5 1127.5 C1792.7 1124.7 1792.7 1121.5 1792.8 1121.5 C1792.9 1121.5 1793.0 1124.9 1793.2 1127.5 C1793.5 1132.1 1794.1 1142.3 1794.4 1146.9 C1794.6 1149.5 1794.7 1150.9 1794.8 1152.9 C1794.9 1154.9 1794.9 1156.1 1794.9 1158.9 C1795.1 1166.1 1795.8 1189.4 1795.9 1196.6 C1796.0 1199.4 1796.0 1202.6 1796.1 1202.6 C1796.2 1202.6 1796.5 1198.9 1796.7 1196.6 C1797.0 1193.4 1797.5 1188.5 1797.8 1185.4 C1798.1 1183.1 1798.2 1181.4 1798.4 1179.4 C1798.6 1177.4 1798.7 1175.9 1798.9 1173.4 C1799.2 1169.3 1799.9 1161.3 1800.2 1157.3 C1800.4 1154.8 1800.6 1151.3 1800.7 1151.3 C1800.8 1151.3 1800.8 1154.4 1800.9 1157.3 C1801.1 1164.6 1801.7 1189.2 1801.9 1196.6 C1802.0 1199.4 1801.8 1202.5 1802.1 1202.6 C1802.4 1202.6 1803.7 1191.0 1804.0 1191.0 C1804.3 1191.0 1804.2 1194.3 1804.4 1197.0 C1804.7 1202.1 1805.4 1214.6 1805.7 1219.7 C1805.8 1222.4 1805.9 1223.7 1806.0 1225.7 C1806.1 1227.7 1806.2 1229.0 1806.4 1231.7 C1806.8 1237.1 1807.6 1250.7 1808.0 1256.1 C1808.1 1258.8 1808.2 1260.1 1808.3 1262.1 C1808.5 1264.1 1808.5 1265.4 1808.7 1268.1 C1809.0 1274.0 1810.0 1290.0 1810.3 1295.8 C1810.5 1298.6 1810.5 1299.8 1810.7 1301.8 C1810.8 1303.8 1811.1 1305.4 1811.4 1307.8 C1811.9 1311.6 1812.8 1318.6 1813.2 1322.3 C1813.5 1324.8 1813.7 1326.3 1814.0 1328.3 C1814.3 1330.3 1814.6 1332.1 1815.0 1334.2 C1815.4 1336.7 1815.9 1339.8 1816.3 1342.2 C1816.6 1344.4 1817.0 1346.2 1817.3 1348.2 C1817.6 1350.1 1817.8 1352.0 1818.1 1354.1 C1818.4 1356.6 1818.8 1359.6 1819.1 1362.1 C1819.4 1364.2 1819.4 1367.9 1819.9 1368.0 C1820.6 1368.1 1822.3 1359.6 1823.2 1359.7 C1824.4 1359.9 1824.8 1369.7 1825.9 1374.6 C1827.0 1379.6 1826.8 1386.4 1829.9 1389.5 C1832.7 1392.4 1843.2 1393.2 1843.2 1393.2" fill="none" stroke="#166d97" stroke-width="8.6" stroke-linejoin="round" stroke-linecap="butt"/>
<circle cx="1843.2" cy="1393.2" r="14" fill="#1a1a1a"/>
<path d="M2039.3 1409.7 C2039.3 1409.7 2041.8 1402.9 2043.2 1400.4 C2044.3 1398.6 2045.3 1396.6 2046.5 1396.1 C2047.4 1395.8 2048.5 1395.9 2049.2 1396.5 C2050.2 1397.2 2050.7 1399.5 2051.2 1401.1 C2051.6 1402.7 2051.4 1404.4 2051.8 1406.1 C2052.3 1407.9 2052.6 1410.1 2053.8 1411.7 C2055.1 1413.4 2057.6 1414.9 2059.8 1415.7 C2061.8 1416.4 2064.2 1416.2 2066.4 1416.1 C2068.6 1416.1 2070.7 1415.3 2073.0 1415.3 C2075.6 1415.3 2078.7 1416.2 2081.3 1416.3 C2083.4 1416.4 2084.5 1416.3 2087.3 1416.3 C2094.0 1416.3 2114.9 1416.3 2121.6 1416.3 C2124.4 1416.3 2125.5 1416.4 2127.6 1416.3 C2130.2 1416.2 2133.1 1415.3 2135.9 1415.3 C2138.6 1415.3 2141.6 1416.2 2144.2 1416.3 C2146.3 1416.4 2147.1 1416.3 2150.2 1416.3 C2159.9 1416.3 2202.2 1416.3 2211.9 1416.3 C2215.0 1416.3 2215.8 1416.4 2217.9 1416.3 C2220.4 1416.2 2223.1 1415.3 2225.9 1415.3 C2228.9 1415.3 2232.4 1416.2 2235.1 1416.3 C2237.4 1416.4 2237.8 1416.3 2241.1 1416.3 C2259.6 1416.3 2401.0 1416.0 2419.4 1416.0 C2422.8 1416.0 2423.6 1416.9 2425.4 1416.0 C2427.9 1414.8 2430.8 1410.4 2432.0 1407.7 C2432.9 1405.7 2432.6 1404.2 2433.0 1401.8 C2433.6 1398.0 2434.7 1391.0 2435.4 1387.2 C2435.8 1384.8 2436.1 1383.2 2436.3 1381.2 C2436.5 1379.3 2436.4 1378.3 2436.5 1375.2 C2436.8 1364.9 2438.2 1318.2 2438.5 1307.8 C2438.6 1304.7 2438.6 1303.8 2438.6 1301.8 C2438.7 1299.8 2438.7 1299.0 2438.7 1295.8 C2438.9 1283.7 2440.0 1220.6 2440.2 1208.6 C2440.2 1205.4 2440.3 1204.6 2440.3 1202.6 C2440.3 1200.6 2440.4 1199.6 2440.4 1196.6 C2440.6 1186.2 2441.6 1139.5 2441.8 1129.2 C2441.9 1126.1 2441.9 1123.2 2441.9 1123.2 C2442.0 1123.2 2442.2 1126.6 2442.4 1129.1 C2442.8 1133.5 2443.5 1142.6 2443.8 1147.0 C2444.0 1149.5 2444.2 1150.9 2444.3 1152.9 C2444.4 1154.9 2444.3 1155.8 2444.4 1158.9 C2444.6 1169.6 2445.6 1219.0 2445.8 1229.7 C2445.9 1232.8 2445.9 1233.7 2445.9 1235.7 C2446.0 1237.7 2446.0 1238.8 2446.1 1241.6 C2446.4 1248.4 2447.1 1269.2 2447.4 1276.0 C2447.5 1278.8 2447.2 1281.9 2447.6 1282.0 C2447.9 1282.0 2449.1 1275.3 2449.6 1275.4 C2449.9 1275.4 2449.9 1278.9 2450.1 1281.3 C2450.4 1285.1 2451.0 1292.1 2451.4 1295.9 C2451.6 1298.3 2451.7 1299.8 2451.9 1301.8 C2452.0 1303.8 2452.1 1305.2 2452.3 1307.8 C2452.6 1312.7 2453.4 1324.0 2453.8 1328.9 C2454.0 1331.5 2454.0 1332.9 2454.2 1334.9 C2454.4 1336.9 2454.8 1338.7 2455.2 1340.8 C2455.6 1343.3 2456.1 1346.4 2456.5 1348.9 C2456.9 1351.0 2457.2 1354.8 2457.5 1354.8 C2457.8 1354.8 2458.0 1350.9 2458.3 1348.8 C2458.6 1346.4 2459.0 1343.3 2459.4 1340.9 C2459.6 1338.7 2460.0 1336.9 2460.1 1334.9 C2460.3 1332.9 2460.4 1331.5 2460.5 1328.9 C2460.8 1324.0 2461.5 1312.7 2461.8 1307.8 C2461.9 1305.2 2461.8 1304.1 2462.1 1301.8 C2462.6 1298.8 2463.7 1291.2 2464.4 1291.2 C2465.2 1291.2 2466.1 1297.7 2466.8 1301.8 C2467.6 1307.4 2467.4 1316.9 2468.4 1321.7 C2469.0 1324.5 2470.3 1326.1 2470.7 1328.3 C2471.2 1330.3 2471.0 1331.7 2471.2 1334.3 C2471.6 1339.2 2472.5 1350.5 2472.9 1355.4 C2473.1 1358.0 2473.2 1359.4 2473.4 1361.4 C2473.6 1363.4 2473.8 1364.9 2474.1 1367.3 C2474.6 1371.1 2475.5 1378.1 2475.9 1381.9 C2476.2 1384.3 2476.2 1385.4 2476.7 1387.9 C2477.6 1392.3 2479.3 1401.4 2481.7 1406.1 C2483.4 1409.6 2485.6 1413.4 2488.3 1414.3 C2490.7 1415.2 2493.7 1413.8 2496.5 1412.7 C2499.9 1411.3 2506.9 1406.1 2506.9 1406.1" fill="none" stroke="#166d97" stroke-width="8.6" stroke-linejoin="round" stroke-linecap="butt"/>
<circle cx="2506.9" cy="1406.1" r="14" fill="#1a1a1a"/>
<path d="M48.2 1968.7 C48.2 1968.7 51.6 1968.7 54.2 1968.7 C59.6 1968.7 73.2 1968.7 78.6 1968.7 C81.3 1968.7 82.6 1969.5 84.6 1968.7 C87.4 1967.5 90.1 1963.0 92.9 1960.4 C95.6 1957.9 98.9 1956.4 101.2 1953.1 C104.1 1949.1 105.7 1941.9 107.8 1937.2 C109.5 1933.5 111.3 1931.2 112.8 1927.3 C114.7 1922.2 116.0 1914.2 117.7 1909.1 C119.0 1905.3 120.0 1902.1 121.7 1899.2 C123.2 1896.6 125.3 1893.8 127.0 1892.6 C128.0 1891.9 129.2 1891.1 130.0 1891.6 C131.5 1892.4 131.1 1899.7 132.6 1902.5 C133.8 1904.7 135.9 1906.0 137.6 1907.5 C139.2 1908.9 141.1 1910.0 142.5 1911.4 C143.8 1912.8 145.0 1913.8 145.8 1915.7 C147.1 1918.6 147.5 1927.3 148.2 1927.3 C148.9 1927.3 148.2 1914.1 150.1 1912.4 C151.1 1911.6 152.9 1911.8 154.1 1912.4 C155.9 1913.3 157.5 1916.7 159.1 1919.1 C160.8 1921.6 162.2 1924.5 164.0 1927.3 C166.0 1930.4 168.0 1934.2 170.7 1936.6 C173.1 1938.7 176.3 1941.0 178.9 1941.2 C181.2 1941.4 183.3 1939.3 185.6 1938.9 C187.7 1938.5 190.0 1939.4 192.2 1938.9 C194.4 1938.4 197.0 1937.5 198.8 1935.6 C201.1 1933.2 201.6 1926.5 203.8 1924.7 C205.2 1923.5 207.1 1923.1 208.7 1923.4 C210.4 1923.6 212.2 1925.0 213.7 1926.7 C215.7 1929.0 216.7 1933.8 218.6 1937.2 C220.6 1940.7 222.6 1944.6 225.3 1947.2 C227.6 1949.5 230.8 1950.3 233.5 1952.1 C236.4 1954.1 238.9 1957.1 241.8 1958.8 C244.4 1960.3 247.3 1961.9 250.1 1962.1 C252.8 1962.2 256.2 1961.5 258.3 1959.8 C260.7 1957.8 262.3 1953.3 263.3 1950.5 C264.1 1948.4 264.1 1946.9 264.6 1944.6 C265.2 1941.4 266.3 1936.4 267.0 1933.2 C267.5 1930.9 268.0 1929.3 268.3 1927.3 C268.6 1925.4 268.6 1924.1 268.9 1921.4 C269.6 1915.5 271.3 1899.4 271.9 1893.6 C272.2 1890.9 272.4 1889.6 272.6 1887.6 C272.7 1885.6 272.8 1884.4 272.9 1881.6 C273.3 1875.8 274.2 1859.8 274.5 1853.9 C274.7 1851.2 274.7 1850.5 274.9 1847.9 C275.3 1843.2 276.0 1828.2 277.2 1828.1 C277.9 1828.0 279.3 1832.5 279.9 1834.7 C280.3 1836.7 280.2 1838.2 280.4 1840.6 C280.8 1844.4 281.5 1851.4 281.9 1855.2 C282.1 1857.6 282.3 1859.2 282.5 1861.1 C282.7 1863.1 282.9 1864.8 283.1 1867.1 C283.4 1870.3 283.9 1875.2 284.2 1878.3 C284.4 1880.6 284.4 1881.8 284.8 1884.3 C285.4 1888.5 287.5 1896.7 288.1 1900.9 C288.5 1903.3 288.5 1904.3 288.8 1906.8 C289.3 1911.2 290.3 1920.3 290.8 1924.7 C291.1 1927.2 290.9 1928.4 291.4 1930.6 C292.1 1933.6 293.8 1937.1 294.7 1940.6 C295.7 1944.2 296.2 1952.1 297.1 1952.1 C297.9 1952.1 297.8 1941.8 299.7 1939.9 C300.9 1938.7 303.2 1939.9 304.7 1938.9 C306.7 1937.5 308.6 1933.2 309.6 1930.6 C310.5 1928.6 310.6 1926.9 311.1 1924.8 C311.7 1922.3 312.5 1919.1 313.1 1916.6 C313.7 1914.5 314.2 1912.7 314.6 1910.8 C315.0 1908.8 315.0 1907.5 315.3 1904.8 C316.1 1899.0 318.1 1882.9 318.8 1877.0 C319.2 1874.3 319.4 1873.1 319.6 1871.1 C319.8 1869.1 319.8 1867.9 320.0 1865.1 C320.5 1858.8 321.9 1840.4 322.4 1834.0 C322.6 1831.3 322.7 1830.1 322.9 1828.1 C323.0 1826.1 323.0 1825.0 323.1 1822.1 C323.5 1814.1 324.9 1785.7 325.2 1777.8 C325.4 1774.9 325.4 1773.8 325.5 1771.8 C325.6 1769.8 325.7 1768.5 325.8 1765.8 C326.1 1760.0 326.9 1744.0 327.2 1738.1 C327.3 1735.4 327.2 1734.0 327.5 1732.1 C327.8 1730.4 328.5 1727.1 328.8 1727.1 C329.2 1727.2 329.1 1730.6 329.3 1733.1 C329.7 1737.2 330.3 1745.2 330.6 1749.3 C330.9 1751.8 331.0 1753.3 331.1 1755.3 C331.3 1757.3 331.3 1758.6 331.4 1761.3 C331.7 1766.7 332.3 1780.3 332.5 1785.7 C332.6 1788.3 332.1 1790.4 332.8 1791.7 C333.2 1792.5 334.4 1793.5 334.8 1793.3 C335.4 1793.0 334.9 1790.2 334.9 1787.3 C335.1 1779.6 335.8 1752.5 336.0 1744.7 C336.0 1741.8 336.1 1740.7 336.1 1738.7 C336.2 1736.7 336.2 1735.6 336.3 1732.7 C336.5 1725.6 337.1 1702.2 337.3 1695.1 C337.3 1692.2 337.3 1691.5 337.4 1689.1 C337.7 1685.2 338.5 1674.2 339.1 1674.2 C339.7 1674.2 340.7 1685.2 341.1 1689.1 C341.3 1691.5 341.2 1692.2 341.3 1695.1 C341.7 1702.2 342.8 1725.6 343.1 1732.7 C343.2 1735.6 343.3 1736.7 343.4 1738.7 C343.5 1740.7 343.5 1741.9 343.7 1744.7 C344.1 1751.9 345.3 1775.2 345.7 1782.4 C345.9 1785.2 345.9 1786.4 346.0 1788.4 C346.1 1790.3 346.2 1791.5 346.4 1794.3 C346.9 1801.5 348.5 1824.8 348.9 1832.0 C349.1 1834.9 349.2 1836.0 349.3 1838.0 C349.5 1840.0 349.7 1841.1 349.9 1844.0 C350.7 1851.1 353.0 1874.5 353.7 1881.6 C354.0 1884.5 354.0 1885.6 354.3 1887.6 C354.6 1889.6 354.9 1891.0 355.3 1893.5 C356.0 1897.9 357.6 1907.1 358.3 1911.5 C358.7 1914.0 358.8 1915.5 359.3 1917.4 C359.7 1919.3 360.5 1921.0 361.2 1923.1 C362.0 1925.6 363.1 1929.0 364.0 1931.6 C364.7 1933.6 365.1 1935.4 365.9 1937.2 C366.6 1939.1 367.6 1940.6 368.6 1942.6 C369.9 1945.3 371.8 1949.1 373.1 1951.7 C374.1 1953.8 374.3 1955.3 375.8 1957.1 C378.2 1959.9 383.0 1964.1 387.4 1965.4 C391.8 1966.6 397.8 1964.7 402.3 1964.4 C405.9 1964.1 409.4 1965.0 412.2 1963.7 C414.9 1962.5 417.7 1959.5 418.8 1957.1 C419.7 1955.2 419.2 1953.8 419.5 1951.1 C420.1 1945.7 421.6 1932.1 422.1 1926.7 C422.4 1924.0 422.6 1922.7 422.8 1920.7 C422.9 1918.7 422.9 1917.7 423.0 1914.7 C423.4 1905.7 424.8 1869.5 425.2 1860.5 C425.3 1857.5 425.4 1856.5 425.4 1854.5 C425.5 1852.5 425.5 1851.6 425.6 1848.5 C426.0 1837.9 427.6 1788.4 427.9 1777.8 C428.0 1774.7 428.0 1773.8 428.1 1771.8 C428.2 1769.8 428.2 1768.8 428.3 1765.8 C428.6 1756.8 429.9 1720.6 430.2 1711.6 C430.3 1708.6 430.3 1707.6 430.4 1705.6 C430.5 1703.6 430.6 1702.0 430.8 1699.6 C431.0 1696.2 431.4 1690.3 431.7 1686.8 C431.8 1684.4 431.5 1682.5 432.1 1680.8 C432.5 1679.5 433.5 1677.4 434.0 1677.5 C435.2 1677.8 435.7 1691.3 436.0 1695.7 C436.2 1698.2 436.2 1698.8 436.3 1701.7 C436.7 1710.0 438.0 1741.0 438.4 1749.3 C438.5 1752.2 438.6 1753.3 438.7 1755.3 C438.8 1757.3 438.8 1758.2 438.9 1761.3 C439.4 1770.9 441.3 1812.4 441.7 1822.1 C441.9 1825.1 441.9 1826.1 442.0 1828.1 C442.1 1830.1 442.2 1831.1 442.3 1834.0 C442.9 1843.1 445.1 1879.2 445.6 1888.2 C445.8 1891.2 445.8 1892.2 446.0 1894.2 C446.1 1896.2 446.3 1897.4 446.6 1900.2 C447.2 1906.5 449.0 1925.0 449.7 1931.3 C449.9 1934.0 449.9 1935.3 450.3 1937.2 C450.6 1939.2 451.2 1941.0 451.7 1943.1 C452.3 1945.6 453.1 1948.8 453.8 1951.3 C454.3 1953.4 454.3 1955.0 455.2 1957.1 C456.5 1960.0 459.0 1964.4 461.8 1966.4 C464.6 1968.2 468.9 1968.3 471.8 1968.7 C474.0 1968.9 475.2 1968.7 477.8 1968.7 C482.1 1968.7 491.2 1968.7 495.5 1968.7 C498.1 1968.7 499.7 1969.4 501.5 1968.7 C503.7 1967.9 506.3 1965.7 507.5 1963.7 C508.5 1962.0 508.3 1960.0 508.7 1957.8 C509.2 1955.4 509.8 1952.2 510.3 1949.8 C510.7 1947.6 510.9 1946.3 511.5 1943.9 C512.4 1940.0 515.8 1929.0 515.8 1929.0" fill="none" stroke="#166d97" stroke-width="8.6" stroke-linejoin="round" stroke-linecap="butt"/>
<circle cx="515.8" cy="1929.0" r="14" fill="#1a1a1a"/>
<path d="M712.2 1969.0 C712.2 1969.0 715.9 1969.0 718.2 1968.9 C721.6 1968.9 727.1 1968.8 730.4 1968.8 C732.7 1968.7 734.4 1968.8 736.4 1968.7 C738.4 1968.6 740.0 1968.5 742.4 1968.3 C746.2 1968.1 753.1 1967.6 756.9 1967.4 C759.3 1967.3 760.4 1967.3 762.9 1967.0 C767.0 1966.6 775.3 1965.3 779.4 1964.4 C781.9 1963.8 783.1 1963.3 785.2 1962.7 C787.7 1962.0 791.0 1961.1 793.5 1960.4 C795.6 1959.8 797.3 1959.1 799.3 1958.8 C801.2 1958.4 803.0 1958.4 805.2 1958.1 C808.0 1957.8 812.0 1957.4 814.8 1957.1 C817.0 1956.8 818.9 1957.3 820.8 1956.4 C823.1 1955.4 824.7 1952.2 827.4 1950.5 C830.6 1948.4 835.4 1945.9 839.0 1945.5 C841.9 1945.2 844.6 1946.9 847.2 1947.2 C849.6 1947.4 851.9 1946.3 853.9 1947.2 C856.0 1948.1 857.6 1953.1 859.5 1953.1 C861.4 1953.2 863.3 1949.3 865.4 1947.2 C868.0 1944.6 870.9 1941.4 873.7 1938.9 C876.4 1936.5 879.1 1934.0 882.0 1932.3 C884.6 1930.7 888.1 1931.1 890.3 1929.0 C892.8 1926.5 893.9 1921.0 895.2 1917.4 C896.3 1914.4 896.5 1911.3 897.9 1909.1 C899.0 1907.3 901.1 1906.3 902.5 1904.8 C903.8 1903.5 905.1 1900.7 906.1 1900.9 C907.4 1901.0 908.1 1904.9 909.1 1907.5 C910.5 1911.1 911.2 1919.3 913.4 1920.7 C914.8 1921.6 917.1 1919.2 918.4 1920.0 C920.4 1921.4 919.8 1929.0 921.7 1932.3 C923.3 1935.1 925.9 1937.7 928.3 1938.9 C930.4 1939.9 932.8 1939.2 934.9 1939.9 C937.2 1940.6 939.3 1943.2 941.5 1943.2 C943.8 1943.2 945.8 1940.3 948.2 1939.9 C950.7 1939.5 954.2 1939.8 956.4 1941.2 C958.7 1942.7 960.0 1949.0 961.4 1948.8 C962.8 1948.7 962.9 1942.5 964.7 1940.6 C966.3 1938.8 969.5 1939.2 971.3 1937.2 C973.8 1934.5 975.3 1927.6 976.3 1924.0 C976.9 1921.7 976.9 1920.5 977.2 1918.1 C977.9 1914.3 979.0 1907.3 979.6 1903.5 C980.0 1901.1 980.3 1899.5 980.6 1897.5 C980.9 1895.6 980.9 1894.2 981.2 1891.6 C981.8 1886.2 983.3 1872.5 983.9 1867.1 C984.2 1864.4 984.4 1863.1 984.6 1861.1 C984.8 1859.2 984.8 1857.9 985.1 1855.2 C985.5 1849.3 986.9 1833.3 987.4 1827.4 C987.6 1824.7 987.7 1823.4 987.9 1821.4 C988.0 1819.4 988.1 1818.2 988.3 1815.5 C988.7 1809.6 989.7 1793.6 990.1 1787.7 C990.3 1785.0 990.4 1783.7 990.5 1781.7 C990.6 1779.7 990.6 1778.6 990.7 1775.7 C991.0 1768.2 992.0 1742.3 992.3 1734.8 C992.4 1731.9 992.4 1730.8 992.5 1728.8 C992.6 1726.8 992.7 1725.1 992.8 1722.8 C993.0 1719.7 993.3 1714.8 993.5 1711.6 C993.6 1709.3 993.5 1705.7 993.8 1705.6 C994.2 1705.6 995.4 1712.7 995.8 1715.6 C996.1 1717.8 996.0 1718.8 996.1 1721.6 C996.4 1727.4 997.2 1743.4 997.5 1749.3 C997.6 1752.0 997.5 1755.2 997.8 1755.3 C998.3 1755.3 1000.6 1738.7 1001.1 1738.7 C1001.4 1738.7 1001.3 1742.3 1001.5 1744.7 C1001.7 1748.5 1002.1 1755.4 1002.4 1759.2 C1002.5 1761.6 1002.6 1763.2 1002.8 1765.2 C1002.9 1767.2 1003.1 1768.9 1003.4 1771.2 C1003.7 1774.3 1004.2 1779.2 1004.5 1782.4 C1004.7 1784.7 1004.7 1786.0 1005.1 1788.4 C1005.7 1791.9 1007.8 1798.0 1008.4 1801.6 C1008.8 1804.0 1008.6 1804.8 1008.8 1807.6 C1009.2 1813.4 1010.2 1829.4 1010.6 1835.3 C1010.8 1838.0 1010.9 1839.3 1011.0 1841.3 C1011.2 1843.3 1011.2 1844.6 1011.4 1847.3 C1011.8 1853.1 1012.9 1869.1 1013.3 1875.0 C1013.5 1877.7 1013.5 1879.0 1013.7 1881.0 C1013.9 1883.0 1014.1 1884.5 1014.4 1887.0 C1014.9 1890.7 1015.8 1897.7 1016.2 1901.5 C1016.5 1903.9 1016.7 1905.5 1017.0 1907.5 C1017.3 1909.5 1017.5 1911.1 1017.8 1913.4 C1018.3 1916.6 1019.0 1921.5 1019.4 1924.7 C1019.8 1927.0 1019.7 1928.2 1020.3 1930.6 C1021.3 1934.8 1023.6 1942.5 1025.9 1947.2 C1027.8 1951.0 1029.6 1954.4 1032.5 1957.1 C1035.6 1960.0 1039.8 1962.1 1044.1 1963.7 C1049.0 1965.6 1054.9 1966.4 1060.7 1967.0 C1066.9 1967.8 1075.1 1968.2 1080.5 1967.7 C1084.4 1967.3 1088.0 1967.4 1090.4 1965.4 C1093.2 1963.1 1094.6 1957.1 1095.4 1953.8 C1095.9 1951.5 1095.6 1950.7 1095.8 1947.8 C1096.3 1940.7 1097.8 1917.3 1098.3 1910.1 C1098.5 1907.3 1098.6 1906.2 1098.7 1904.2 C1098.8 1902.2 1098.8 1901.2 1098.9 1898.2 C1099.2 1889.1 1100.5 1853.0 1100.8 1844.0 C1100.9 1841.0 1101.0 1840.0 1101.0 1838.0 C1101.1 1836.0 1101.1 1835.0 1101.3 1832.0 C1101.6 1823.0 1103.1 1786.8 1103.4 1777.8 C1103.6 1774.8 1103.6 1773.8 1103.7 1771.8 C1103.8 1769.8 1103.8 1768.7 1103.9 1765.8 C1104.3 1757.9 1105.4 1729.5 1105.7 1721.6 C1105.9 1718.6 1105.9 1717.6 1106.0 1715.6 C1106.1 1713.6 1106.2 1712.2 1106.3 1709.6 C1106.5 1704.7 1107.1 1693.4 1107.3 1688.5 C1107.5 1685.9 1107.4 1684.6 1107.6 1682.5 C1107.9 1679.9 1108.4 1674.2 1109.0 1674.2 C1109.5 1674.2 1110.6 1679.9 1111.0 1682.5 C1111.3 1684.6 1111.1 1685.7 1111.3 1688.5 C1111.5 1694.3 1112.3 1710.3 1112.6 1716.2 C1112.8 1718.9 1112.8 1720.2 1112.9 1722.2 C1113.0 1724.2 1113.1 1725.3 1113.2 1728.2 C1113.6 1735.3 1114.6 1758.7 1115.0 1765.8 C1115.1 1768.7 1115.2 1769.8 1115.3 1771.8 C1115.4 1773.8 1115.4 1775.1 1115.6 1777.8 C1115.9 1783.7 1116.9 1799.7 1117.2 1805.5 C1117.4 1808.3 1117.5 1809.5 1117.6 1811.5 C1117.7 1813.5 1117.8 1814.7 1117.9 1817.5 C1118.3 1823.8 1119.5 1842.2 1119.9 1848.5 C1120.0 1851.3 1120.1 1852.5 1120.2 1854.5 C1120.3 1856.5 1120.4 1857.6 1120.6 1860.5 C1121.1 1868.1 1122.7 1893.9 1123.2 1901.5 C1123.3 1904.4 1123.4 1905.5 1123.5 1907.5 C1123.7 1909.5 1123.9 1910.8 1124.2 1913.4 C1124.8 1918.8 1126.3 1932.5 1126.8 1937.9 C1127.1 1940.6 1127.0 1941.6 1127.5 1943.9 C1128.3 1947.1 1129.9 1952.0 1131.8 1955.4 C1133.6 1958.8 1135.5 1962.3 1138.4 1964.4 C1141.5 1966.5 1146.0 1967.2 1150.0 1967.7 C1154.2 1968.2 1158.7 1968.3 1163.2 1967.0 C1168.5 1965.5 1179.5 1958.1 1179.5 1958.1" fill="none" stroke="#166d97" stroke-width="8.6" stroke-linejoin="round" stroke-linecap="butt"/>
<circle cx="1179.5" cy="1958.1" r="14" fill="#1a1a1a"/>
<path d="M1375.9 1969.0 C1375.9 1969.0 1379.4 1969.0 1381.9 1968.9 C1385.8 1968.9 1393.1 1968.8 1397.0 1968.8 C1399.5 1968.7 1401.0 1969.1 1403.0 1968.7 C1405.2 1968.2 1407.4 1966.1 1409.6 1965.7 C1411.6 1965.3 1413.2 1965.8 1415.6 1965.9 C1419.4 1966.0 1426.3 1966.1 1430.1 1966.2 C1432.5 1966.3 1434.3 1967.0 1436.1 1966.4 C1438.0 1965.7 1439.0 1962.6 1441.1 1962.1 C1443.7 1961.4 1448.1 1964.9 1451.0 1964.4 C1453.5 1963.9 1456.1 1961.8 1457.6 1959.8 C1459.2 1957.7 1458.9 1952.4 1460.3 1952.1 C1461.5 1951.9 1463.4 1956.9 1465.2 1957.1 C1467.0 1957.3 1469.5 1955.9 1470.8 1953.8 C1473.2 1950.2 1470.9 1936.9 1473.2 1933.9 C1474.3 1932.5 1476.0 1932.7 1477.5 1932.3 C1479.0 1931.8 1480.8 1931.0 1482.4 1931.3 C1484.2 1931.6 1486.0 1932.8 1487.4 1934.6 C1489.4 1937.3 1490.6 1947.2 1491.7 1947.2 C1492.7 1947.1 1492.7 1939.4 1494.0 1937.2 C1494.9 1935.9 1496.3 1934.4 1497.3 1934.6 C1498.9 1935.0 1499.7 1941.7 1501.6 1943.9 C1503.2 1945.6 1505.2 1946.5 1507.2 1947.2 C1509.3 1947.8 1511.8 1946.9 1513.9 1947.8 C1516.3 1948.9 1518.0 1953.1 1520.5 1953.8 C1522.9 1954.5 1526.2 1951.8 1528.8 1952.1 C1531.1 1952.5 1533.0 1954.6 1535.4 1955.4 C1537.9 1956.3 1541.0 1957.2 1543.6 1957.1 C1546.0 1957.0 1548.3 1955.0 1550.3 1955.4 C1552.2 1955.9 1553.7 1960.0 1555.2 1959.8 C1557.0 1959.5 1557.9 1953.0 1560.2 1952.1 C1562.4 1951.3 1565.5 1954.0 1568.5 1954.5 C1571.6 1954.9 1575.5 1955.6 1578.4 1954.8 C1580.9 1954.1 1583.2 1952.7 1585.0 1950.5 C1587.4 1947.5 1588.9 1940.8 1590.0 1937.2 C1590.6 1934.9 1590.7 1933.7 1591.2 1931.4 C1591.9 1928.2 1593.0 1923.1 1593.7 1920.0 C1594.2 1917.7 1594.5 1916.1 1594.9 1914.1 C1595.3 1912.1 1595.5 1910.5 1595.9 1908.2 C1596.5 1905.0 1597.3 1900.0 1597.9 1896.8 C1598.3 1894.6 1598.4 1893.1 1598.9 1890.9 C1599.5 1888.0 1600.0 1881.6 1601.5 1881.0 C1602.6 1880.6 1604.5 1884.0 1605.5 1883.6 C1606.9 1883.2 1607.3 1876.0 1608.2 1876.0 C1609.3 1876.1 1610.2 1883.7 1611.5 1887.6 C1612.9 1891.9 1614.7 1896.8 1616.4 1900.9 C1618.0 1904.4 1619.7 1907.5 1621.4 1910.8 C1623.1 1914.1 1624.9 1917.5 1626.4 1920.7 C1627.6 1923.6 1628.7 1929.1 1629.7 1929.0 C1631.0 1928.9 1630.8 1913.3 1633.0 1912.4 C1634.3 1911.9 1636.4 1915.8 1637.9 1915.7 C1639.4 1915.7 1640.8 1912.1 1641.9 1912.4 C1643.5 1912.9 1643.5 1921.5 1645.2 1922.4 C1646.4 1922.9 1647.9 1920.5 1649.5 1920.7 C1651.9 1921.0 1655.6 1927.2 1657.8 1926.7 C1660.0 1926.1 1661.7 1920.2 1662.8 1917.4 C1663.6 1915.3 1663.7 1913.7 1664.2 1911.6 C1664.8 1909.1 1665.6 1905.9 1666.3 1903.4 C1666.8 1901.3 1667.3 1899.5 1667.7 1897.5 C1668.1 1895.6 1668.2 1894.3 1668.5 1891.6 C1669.3 1886.2 1671.1 1872.5 1671.9 1867.1 C1672.2 1864.4 1672.4 1863.1 1672.7 1861.1 C1673.0 1859.2 1673.3 1857.7 1673.8 1855.2 C1674.5 1851.5 1675.8 1844.4 1676.5 1840.6 C1677.0 1838.2 1677.3 1836.6 1677.6 1834.7 C1678.0 1832.7 1678.4 1831.1 1678.9 1828.8 C1679.6 1825.6 1680.7 1820.6 1681.4 1817.4 C1681.8 1815.1 1682.1 1813.9 1682.6 1811.5 C1683.4 1808.0 1684.9 1802.4 1685.9 1798.3 C1686.8 1794.7 1687.7 1788.4 1688.6 1788.4 C1689.3 1788.3 1690.1 1792.2 1690.9 1795.0 C1692.0 1799.2 1693.4 1807.4 1694.2 1811.5 C1694.6 1814.0 1694.8 1815.3 1695.2 1817.4 C1695.6 1819.9 1696.1 1823.0 1696.5 1825.4 C1696.9 1827.6 1697.2 1829.4 1697.5 1831.4 C1697.8 1833.3 1697.9 1834.8 1698.2 1837.3 C1698.6 1841.7 1699.7 1850.8 1700.1 1855.2 C1700.4 1857.7 1700.5 1859.2 1700.8 1861.1 C1701.1 1863.1 1701.4 1864.6 1701.8 1867.1 C1702.5 1871.4 1704.1 1880.6 1704.8 1885.0 C1705.2 1887.5 1705.5 1889.0 1705.8 1890.9 C1706.1 1892.9 1706.3 1894.3 1706.7 1896.9 C1707.4 1901.8 1709.1 1913.2 1709.8 1918.1 C1710.2 1920.7 1710.1 1921.9 1710.7 1924.0 C1711.5 1926.6 1713.5 1929.0 1714.7 1932.3 C1716.4 1936.8 1716.8 1944.4 1719.0 1948.8 C1720.7 1952.3 1723.2 1954.4 1725.6 1957.1 C1728.2 1959.9 1730.9 1963.6 1733.9 1965.4 C1736.5 1966.9 1740.2 1968.6 1742.2 1967.7 C1744.0 1966.8 1744.9 1962.8 1745.5 1960.4 C1746.0 1958.4 1745.7 1957.1 1745.8 1954.4 C1746.2 1948.6 1747.1 1932.6 1747.4 1926.7 C1747.6 1924.0 1747.7 1922.7 1747.8 1920.7 C1747.9 1918.7 1747.9 1917.8 1747.9 1914.7 C1748.2 1904.1 1749.4 1854.6 1749.6 1844.0 C1749.7 1840.9 1749.7 1840.0 1749.8 1838.0 C1749.8 1836.0 1749.8 1835.1 1749.9 1832.0 C1750.1 1821.4 1751.1 1771.9 1751.3 1761.3 C1751.4 1758.2 1751.4 1757.3 1751.4 1755.3 C1751.5 1753.3 1751.5 1752.2 1751.6 1749.3 C1751.8 1741.0 1752.7 1710.0 1752.9 1701.7 C1753.0 1698.8 1753.0 1697.7 1753.1 1695.7 C1753.2 1693.7 1753.3 1691.9 1753.5 1689.7 C1753.6 1686.9 1753.9 1683.0 1754.0 1680.2 C1754.2 1678.0 1754.2 1674.2 1754.4 1674.2 C1754.7 1674.2 1755.8 1685.2 1756.1 1689.1 C1756.3 1691.5 1756.2 1692.1 1756.3 1695.1 C1756.7 1704.1 1758.1 1740.3 1758.5 1749.3 C1758.6 1752.3 1758.6 1753.3 1758.7 1755.3 C1758.8 1757.3 1758.8 1758.2 1759.0 1761.3 C1759.4 1771.9 1761.4 1821.4 1761.8 1832.0 C1761.9 1835.1 1761.9 1836.0 1762.0 1838.0 C1762.1 1840.0 1762.2 1840.9 1762.4 1844.0 C1762.9 1854.0 1765.4 1898.1 1766.0 1908.1 C1766.2 1911.2 1766.1 1912.1 1766.3 1914.1 C1766.5 1916.1 1766.8 1917.4 1767.2 1920.0 C1768.1 1925.4 1770.2 1939.2 1771.0 1944.6 C1771.4 1947.2 1771.2 1948.3 1771.9 1950.5 C1773.1 1953.8 1775.7 1959.6 1778.6 1962.1 C1780.9 1964.1 1784.3 1964.8 1786.8 1965.4 C1789.0 1965.9 1790.2 1965.6 1792.8 1965.8 C1797.7 1966.1 1809.0 1966.9 1813.9 1967.3 C1816.5 1967.5 1817.7 1967.9 1819.9 1967.7 C1822.8 1967.5 1826.4 1966.6 1829.9 1965.4 C1834.0 1964.0 1843.2 1959.4 1843.2 1959.4" fill="none" stroke="#166d97" stroke-width="8.6" stroke-linejoin="round" stroke-linecap="butt"/>
<circle cx="1843.2" cy="1959.4" r="14" fill="#1a1a1a"/>
<path d="M2039.9 1969.0 C2039.9 1969.0 2042.4 1969.0 2045.9 1969.0 C2069.7 1969.0 2301.3 1969.0 2325.1 1969.0 C2328.6 1969.0 2329.2 1969.7 2331.1 1969.0 C2333.3 1968.2 2335.4 1965.8 2337.1 1963.7 C2338.8 1961.5 2339.5 1956.3 2341.0 1956.1 C2342.5 1956.0 2344.3 1962.0 2346.0 1962.1 C2347.6 1962.1 2349.2 1957.4 2351.0 1957.1 C2352.5 1956.9 2354.6 1960.2 2355.9 1959.8 C2357.5 1959.2 2357.9 1952.2 2359.2 1952.1 C2360.5 1952.0 2362.0 1958.8 2363.5 1958.8 C2365.3 1958.7 2367.2 1950.0 2369.2 1949.8 C2370.8 1949.7 2372.4 1953.7 2374.1 1955.4 C2375.7 1957.2 2377.2 1958.9 2379.1 1960.4 C2381.0 1961.9 2383.6 1964.1 2385.7 1964.4 C2387.4 1964.6 2389.0 1962.8 2390.7 1963.1 C2392.8 1963.4 2394.5 1966.7 2397.3 1967.7 C2400.8 1968.9 2406.6 1969.1 2410.5 1968.7 C2413.6 1968.4 2416.2 1966.9 2418.8 1966.4 C2421.1 1965.9 2423.7 1966.9 2425.4 1965.4 C2428.2 1962.8 2429.0 1951.6 2429.7 1947.2 C2430.1 1944.7 2430.0 1943.9 2430.2 1941.2 C2430.7 1935.3 2432.0 1919.3 2432.5 1913.4 C2432.7 1910.7 2432.8 1910.0 2433.0 1907.5 C2433.4 1902.8 2433.8 1887.6 2434.3 1887.6 C2434.7 1887.6 2435.4 1897.6 2435.7 1897.5 C2435.8 1897.5 2435.7 1894.6 2435.8 1891.5 C2436.1 1881.5 2437.2 1837.4 2437.5 1827.4 C2437.6 1824.4 2437.6 1823.4 2437.6 1821.4 C2437.7 1819.4 2437.7 1818.4 2437.7 1815.4 C2437.9 1806.4 2438.4 1770.3 2438.5 1761.3 C2438.6 1758.3 2438.6 1757.3 2438.6 1755.3 C2438.7 1753.3 2438.7 1752.3 2438.7 1749.3 C2438.9 1740.2 2439.4 1704.1 2439.5 1695.1 C2439.6 1692.1 2439.2 1690.7 2439.6 1689.1 C2440.0 1687.8 2441.1 1687.3 2441.6 1685.8 C2442.6 1683.1 2442.9 1674.2 2443.6 1674.2 C2444.3 1674.2 2445.3 1682.5 2445.6 1685.8 C2445.8 1688.1 2445.7 1688.9 2445.8 1691.8 C2446.1 1699.3 2447.1 1725.2 2447.3 1732.7 C2447.5 1735.6 2447.5 1736.7 2447.6 1738.7 C2447.7 1740.7 2447.7 1741.7 2447.8 1744.7 C2448.2 1753.7 2449.6 1789.9 2450.0 1798.9 C2450.1 1801.9 2450.1 1802.9 2450.2 1804.9 C2450.3 1806.9 2450.4 1807.9 2450.5 1810.9 C2451.0 1819.9 2452.8 1856.1 2453.2 1865.1 C2453.4 1868.1 2453.4 1869.1 2453.5 1871.1 C2453.7 1873.1 2453.8 1874.2 2454.0 1877.1 C2454.6 1884.2 2456.4 1907.6 2457.0 1914.7 C2457.2 1917.6 2457.2 1918.7 2457.5 1920.7 C2457.8 1922.7 2458.2 1924.3 2458.6 1926.6 C2459.2 1929.8 2460.1 1934.8 2460.7 1938.0 C2461.1 1940.3 2461.2 1941.5 2461.8 1943.9 C2462.8 1947.4 2464.5 1953.6 2466.8 1957.1 C2468.6 1959.9 2471.7 1964.1 2473.4 1963.7 C2475.3 1963.3 2475.7 1954.7 2477.4 1952.1 C2478.3 1950.5 2479.4 1948.9 2480.7 1948.8 C2482.2 1948.8 2484.3 1953.4 2486.0 1953.1 C2488.0 1952.8 2489.5 1946.0 2491.6 1943.9 C2493.1 1942.3 2495.3 1942.4 2496.5 1940.6 C2498.4 1937.8 2497.8 1927.6 2499.2 1927.3 C2500.2 1927.1 2502.2 1934.1 2503.2 1933.9 C2504.4 1933.7 2504.5 1925.1 2505.1 1920.7 C2505.8 1916.5 2506.9 1908.1 2506.9 1908.1" fill="none" stroke="#166d97" stroke-width="8.6" stroke-linejoin="round" stroke-linecap="butt"/>
<circle cx="2506.9" cy="1908.1" r="14" fill="#1a1a1a"/>
<path d="M48.2 2521.4 C48.2 2521.4 50.8 2521.4 54.2 2521.4 C77.2 2521.4 293.9 2521.4 316.9 2521.4 C320.3 2521.4 320.9 2521.8 322.9 2521.4 C325.1 2520.9 327.4 2519.7 329.5 2518.4 C331.8 2516.9 333.6 2514.0 336.1 2512.8 C338.6 2511.5 341.8 2511.8 344.4 2510.8 C346.8 2509.8 348.7 2507.4 351.0 2506.8 C353.1 2506.2 355.3 2506.3 357.6 2506.8 C360.3 2507.4 363.4 2509.1 365.9 2510.8 C368.3 2512.4 370.2 2515.3 372.5 2516.7 C374.6 2518.0 376.8 2519.5 379.1 2519.4 C381.7 2519.2 384.6 2516.5 387.4 2515.1 C390.1 2513.6 393.5 2512.8 395.7 2510.8 C397.9 2508.7 399.2 2502.8 400.6 2502.8 C401.9 2502.8 402.7 2508.4 403.9 2508.4 C405.4 2508.5 407.0 2502.4 408.9 2501.8 C410.4 2501.4 412.2 2502.9 413.9 2503.5 C415.5 2504.0 417.3 2505.6 418.8 2505.1 C420.7 2504.6 422.1 2499.7 423.8 2499.5 C425.4 2499.4 427.0 2503.2 428.8 2503.5 C430.3 2503.8 432.4 2501.2 433.7 2501.8 C435.4 2502.6 436.0 2510.2 437.0 2510.1 C438.3 2510.0 439.6 2500.4 440.3 2496.9 C440.8 2494.5 440.8 2493.4 441.2 2490.9 C441.8 2486.6 443.1 2477.4 443.8 2473.0 C444.1 2470.5 444.4 2469.1 444.6 2467.1 C444.8 2465.1 444.8 2464.0 445.0 2461.1 C445.6 2452.8 447.7 2421.8 448.2 2413.5 C448.4 2410.6 448.5 2409.5 448.6 2407.5 C448.7 2405.5 448.8 2404.5 448.9 2401.5 C449.4 2392.5 451.2 2356.4 451.6 2347.3 C451.8 2344.3 451.8 2343.4 451.9 2341.4 C452.0 2339.4 452.0 2338.4 452.2 2335.4 C452.5 2326.3 454.0 2290.2 454.3 2281.2 C454.4 2278.2 454.5 2277.2 454.6 2275.2 C454.6 2273.2 454.7 2271.9 454.9 2269.2 C455.2 2263.3 456.0 2247.3 456.2 2241.5 C456.4 2238.7 456.2 2237.6 456.5 2235.5 C456.9 2232.9 457.9 2227.2 458.5 2227.2 C459.2 2227.2 460.1 2232.9 460.5 2235.5 C460.8 2237.6 460.7 2238.7 460.8 2241.5 C461.1 2247.3 461.9 2263.3 462.2 2269.2 C462.3 2271.9 462.4 2273.2 462.5 2275.2 C462.6 2277.2 462.6 2278.2 462.6 2281.2 C462.8 2290.2 463.5 2326.3 463.7 2335.4 C463.8 2338.4 463.7 2339.4 463.8 2341.4 C463.9 2343.4 464.0 2344.5 464.2 2347.3 C464.6 2354.5 466.0 2377.8 466.4 2385.0 C466.6 2387.9 466.7 2389.0 466.8 2391.0 C466.9 2393.0 466.9 2394.1 467.1 2397.0 C467.4 2404.1 468.5 2427.5 468.8 2434.6 C469.0 2437.5 468.9 2438.6 469.1 2440.6 C469.3 2442.6 469.6 2444.0 469.9 2446.6 C470.5 2451.5 472.0 2462.9 472.6 2467.8 C473.0 2470.3 473.1 2471.7 473.4 2473.7 C473.7 2475.7 474.1 2477.3 474.5 2479.6 C475.1 2482.8 476.0 2487.8 476.6 2491.0 C477.0 2493.3 477.2 2494.4 477.7 2496.9 C478.6 2501.0 479.4 2509.5 481.7 2513.4 C483.4 2516.2 485.5 2518.1 488.3 2519.4 C491.8 2520.9 497.0 2520.5 501.5 2520.7 C506.2 2520.9 515.8 2520.7 515.8 2520.7" fill="none" stroke="#166d97" stroke-width="8.6" stroke-linejoin="round" stroke-linecap="butt"/>
<circle cx="515.8" cy="2520.7" r="14" fill="#1a1a1a"/>
<path d="M712.2 2521.7 C712.2 2521.7 716.0 2521.7 718.2 2521.7 C720.9 2521.7 724.4 2521.7 727.1 2521.7 C729.3 2521.7 731.1 2522.3 733.1 2521.7 C735.4 2520.9 737.4 2518.4 739.7 2516.7 C742.3 2514.8 745.7 2513.6 748.0 2510.8 C750.8 2507.3 752.6 2501.5 754.6 2496.9 C756.5 2492.4 758.2 2488.3 759.6 2483.6 C761.0 2478.5 762.0 2472.6 762.9 2467.1 C763.7 2461.6 763.0 2451.1 764.5 2450.5 C765.3 2450.3 767.0 2452.2 767.8 2453.9 C769.3 2456.7 769.8 2467.1 770.1 2467.1 C770.4 2467.1 770.3 2463.6 770.3 2461.1 C770.5 2456.7 770.8 2447.7 770.9 2443.3 C771.0 2440.8 770.7 2437.4 771.1 2437.3 C771.7 2437.2 773.8 2447.3 774.4 2447.2 C774.9 2447.2 774.8 2443.6 775.0 2441.3 C775.4 2438.1 775.9 2433.2 776.2 2430.0 C776.4 2427.7 776.6 2426.1 776.8 2424.1 C776.9 2422.1 776.9 2420.9 777.0 2418.1 C777.3 2410.9 778.2 2387.6 778.5 2380.4 C778.6 2377.6 778.7 2376.4 778.8 2374.4 C778.8 2372.4 778.8 2371.4 778.9 2368.4 C779.1 2359.4 780.0 2323.3 780.3 2314.3 C780.3 2311.3 780.2 2308.3 780.4 2308.3 C780.7 2308.3 781.8 2324.8 782.1 2324.8 C782.2 2324.8 782.1 2321.5 782.2 2318.8 C782.3 2312.9 782.5 2297.0 782.6 2291.1 C782.7 2288.4 782.7 2285.1 782.7 2285.1 C782.8 2285.1 782.8 2288.2 782.9 2291.1 C783.2 2298.3 783.9 2321.6 784.2 2328.7 C784.3 2331.6 784.3 2334.7 784.4 2334.7 C784.4 2334.7 784.4 2331.5 784.5 2328.7 C784.7 2322.4 785.1 2304.0 785.2 2297.7 C785.3 2294.9 785.3 2293.7 785.4 2291.7 C785.4 2289.7 785.5 2288.4 785.6 2285.7 C785.8 2280.1 786.3 2265.3 786.5 2259.7 C786.6 2257.0 786.6 2253.7 786.7 2253.7 C786.8 2253.7 786.8 2257.0 786.9 2259.7 C787.1 2265.3 787.6 2280.1 787.8 2285.7 C787.9 2288.4 788.0 2289.7 788.0 2291.7 C788.1 2293.7 788.1 2294.9 788.2 2297.7 C788.4 2304.9 789.0 2328.2 789.2 2335.4 C789.3 2338.2 789.3 2339.4 789.3 2341.4 C789.4 2343.4 789.5 2344.6 789.7 2347.3 C790.0 2353.2 791.0 2369.2 791.3 2375.1 C791.5 2377.8 791.3 2381.0 791.7 2381.1 C792.1 2381.1 793.8 2371.1 794.3 2371.1 C794.7 2371.2 794.6 2374.9 794.8 2377.1 C795.0 2379.9 795.3 2383.8 795.5 2386.7 C795.7 2388.9 795.6 2392.6 796.0 2392.6 C796.4 2392.7 798.1 2379.4 798.6 2379.4 C798.9 2379.4 798.9 2382.9 799.1 2385.4 C799.4 2389.5 800.1 2397.5 800.4 2401.5 C800.6 2404.0 800.8 2405.5 800.9 2407.5 C801.1 2409.5 801.2 2410.8 801.4 2413.5 C801.9 2419.4 803.2 2435.4 803.7 2441.3 C804.0 2444.0 804.0 2445.2 804.2 2447.2 C804.4 2449.2 804.6 2450.6 804.8 2453.2 C805.3 2458.1 806.5 2469.5 806.9 2474.4 C807.2 2477.0 807.0 2478.0 807.5 2480.3 C808.4 2483.9 810.0 2490.8 812.5 2493.6 C814.3 2495.5 817.3 2495.0 819.1 2496.9 C821.5 2499.4 821.7 2507.6 824.1 2508.4 C825.9 2509.1 828.9 2507.0 830.7 2505.1 C832.9 2502.9 833.6 2497.0 835.7 2495.2 C837.1 2494.0 839.4 2493.0 840.6 2493.6 C842.0 2494.2 841.9 2500.0 842.9 2500.2 C844.0 2500.3 845.9 2494.2 847.2 2494.2 C848.4 2494.2 849.3 2498.5 850.6 2498.5 C852.0 2498.5 854.1 2494.8 855.5 2491.9 C857.7 2487.5 859.6 2478.1 860.5 2473.7 C861.0 2471.2 860.9 2470.2 861.2 2467.8 C861.7 2464.0 862.6 2457.0 863.0 2453.2 C863.3 2450.8 863.5 2449.2 863.8 2447.2 C864.0 2445.3 864.2 2443.7 864.5 2441.3 C865.0 2437.5 865.9 2430.5 866.4 2426.7 C866.7 2424.3 866.8 2423.2 867.1 2420.8 C867.6 2416.6 867.7 2408.0 869.4 2404.2 C870.5 2401.9 872.5 2401.4 873.7 2399.3 C875.3 2396.3 876.0 2387.7 877.0 2387.7 C878.2 2387.7 879.2 2397.3 880.3 2400.9 C881.1 2403.5 882.0 2404.8 882.6 2407.5 C883.6 2411.8 883.9 2418.6 884.6 2424.1 C885.3 2429.6 885.2 2440.2 886.9 2440.6 C888.1 2440.9 890.6 2436.7 891.9 2434.0 C893.5 2430.8 893.7 2424.4 895.2 2422.4 C896.0 2421.4 897.2 2420.4 897.9 2420.8 C899.4 2421.4 899.3 2429.3 900.2 2434.0 C901.2 2439.2 901.5 2448.0 903.5 2450.5 C904.4 2451.7 905.9 2451.0 906.8 2452.2 C908.8 2454.9 908.7 2465.8 910.1 2470.4 C911.1 2473.4 912.4 2477.7 913.4 2477.7 C914.6 2477.6 914.9 2468.0 916.7 2467.1 C917.9 2466.5 919.8 2469.3 921.0 2468.7 C923.2 2467.6 924.2 2457.7 925.0 2453.9 C925.5 2451.4 925.4 2450.3 925.7 2447.9 C926.2 2444.1 927.1 2437.1 927.6 2433.3 C927.9 2430.9 928.1 2429.4 928.3 2427.4 C928.5 2425.4 928.6 2424.0 928.9 2421.4 C929.4 2416.5 930.5 2405.2 931.0 2400.3 C931.3 2397.7 931.4 2396.3 931.6 2394.3 C931.8 2392.3 931.9 2391.0 932.1 2388.3 C932.6 2382.5 933.9 2366.4 934.4 2360.6 C934.7 2357.8 934.7 2356.6 934.9 2354.6 C935.1 2352.6 935.3 2351.0 935.5 2348.6 C935.9 2344.8 936.6 2337.9 937.0 2334.1 C937.2 2331.7 936.8 2328.4 937.6 2328.1 C938.2 2327.9 939.9 2331.7 940.9 2331.4 C942.3 2331.1 943.3 2325.3 944.2 2321.5 C945.3 2316.7 945.7 2310.5 946.5 2305.0 C947.3 2299.4 947.9 2288.4 948.8 2288.4 C949.6 2288.4 951.0 2298.1 951.5 2301.6 C951.8 2304.0 951.7 2305.2 951.8 2307.6 C952.1 2311.4 952.5 2318.3 952.8 2322.1 C952.9 2324.6 953.0 2326.1 953.1 2328.1 C953.2 2330.1 953.2 2331.3 953.4 2334.1 C953.6 2340.4 954.3 2358.8 954.5 2365.1 C954.7 2367.9 954.4 2371.0 954.8 2371.1 C955.1 2371.2 956.1 2369.1 956.4 2367.8 C956.9 2366.2 956.8 2364.1 957.1 2361.9 C957.4 2359.0 957.8 2355.1 958.1 2352.3 C958.3 2350.1 958.6 2346.3 958.8 2346.3 C958.9 2346.3 958.8 2349.3 958.9 2352.3 C959.1 2361.5 960.0 2399.0 960.3 2408.1 C960.3 2411.2 959.6 2413.3 960.4 2414.1 C960.9 2414.7 962.5 2414.7 963.1 2414.1 C963.9 2413.4 963.3 2410.7 963.5 2408.2 C963.9 2403.8 964.6 2394.7 964.9 2390.3 C965.1 2387.8 965.2 2384.4 965.4 2384.4 C965.5 2384.4 965.7 2387.8 965.9 2390.3 C966.3 2394.7 967.1 2403.8 967.5 2408.2 C967.7 2410.7 967.8 2412.2 968.0 2414.1 C968.2 2416.1 968.5 2417.7 968.8 2420.1 C969.2 2423.9 970.1 2430.9 970.6 2434.7 C970.9 2437.1 971.1 2438.6 971.3 2440.6 C971.6 2442.6 971.8 2444.2 972.1 2446.6 C972.5 2450.4 973.4 2457.3 973.9 2461.1 C974.2 2463.6 974.3 2465.1 974.6 2467.1 C975.0 2469.1 975.4 2470.9 975.8 2473.0 C976.3 2475.5 976.9 2478.6 977.4 2481.1 C977.8 2483.2 977.8 2486.8 978.6 2486.9 C979.5 2487.1 981.6 2483.0 982.9 2480.3 C984.6 2476.8 986.4 2470.7 987.2 2467.1 C987.8 2464.7 987.7 2463.6 988.1 2461.2 C988.7 2457.4 989.7 2450.3 990.3 2446.6 C990.6 2444.1 990.9 2442.6 991.2 2440.6 C991.4 2438.6 991.6 2437.0 991.9 2434.7 C992.2 2431.5 992.8 2426.6 993.1 2423.4 C993.4 2421.1 993.6 2417.5 993.8 2417.5 C994.0 2417.5 994.1 2421.0 994.3 2423.4 C994.7 2427.5 995.3 2435.5 995.6 2439.6 C995.9 2442.1 996.0 2445.6 996.1 2445.6 C996.3 2445.6 996.3 2442.3 996.4 2439.6 C996.6 2434.0 997.3 2419.2 997.5 2413.5 C997.7 2410.8 997.7 2409.5 997.8 2407.5 C997.9 2405.5 997.9 2404.4 998.0 2401.5 C998.2 2394.4 999.0 2371.1 999.2 2363.9 C999.3 2361.0 999.3 2359.9 999.4 2357.9 C999.6 2355.9 999.7 2354.2 999.9 2351.9 C1000.1 2348.8 1000.5 2343.9 1000.7 2340.7 C1000.8 2338.4 1000.8 2337.0 1001.1 2334.7 C1001.5 2331.8 1002.6 2324.8 1003.4 2324.8 C1004.2 2324.8 1005.2 2331.8 1006.1 2334.7 C1006.8 2337.2 1008.0 2339.2 1008.4 2341.4 C1008.8 2343.4 1008.6 2344.7 1008.7 2347.3 C1008.9 2352.2 1009.5 2363.6 1009.7 2368.4 C1009.9 2371.1 1009.9 2374.4 1010.0 2374.4 C1010.2 2374.4 1010.5 2370.6 1010.8 2368.5 C1011.2 2366.0 1011.6 2363.0 1011.9 2360.5 C1012.2 2358.4 1012.0 2356.2 1012.7 2354.6 C1013.2 2353.2 1014.5 2351.1 1015.0 2351.3 C1015.6 2351.4 1015.2 2354.6 1015.4 2357.3 C1015.8 2362.7 1016.8 2376.3 1017.2 2381.7 C1017.4 2384.4 1017.3 2387.7 1017.6 2387.7 C1018.1 2387.7 1019.8 2378.0 1020.3 2374.4 C1020.6 2372.1 1020.6 2370.9 1020.9 2368.5 C1021.2 2364.4 1022.0 2356.4 1022.4 2352.3 C1022.6 2349.8 1022.8 2346.3 1022.9 2346.3 C1023.1 2346.3 1023.1 2349.7 1023.3 2352.3 C1023.6 2357.5 1024.3 2369.9 1024.6 2375.1 C1024.7 2377.7 1024.8 2379.1 1024.9 2381.1 C1025.1 2383.1 1025.3 2384.3 1025.6 2387.0 C1026.2 2392.9 1027.9 2408.9 1028.6 2414.8 C1028.9 2417.5 1029.0 2418.8 1029.2 2420.8 C1029.5 2422.7 1029.7 2424.1 1030.1 2426.7 C1030.9 2431.6 1032.6 2443.0 1033.3 2447.9 C1033.7 2450.5 1033.8 2451.9 1034.2 2453.9 C1034.5 2455.8 1035.0 2457.4 1035.4 2459.7 C1036.1 2462.9 1037.2 2468.0 1037.9 2471.1 C1038.4 2473.4 1038.5 2474.7 1039.2 2477.0 C1040.2 2480.6 1042.3 2486.4 1044.1 2490.2 C1045.6 2493.4 1047.0 2496.3 1049.1 2498.5 C1051.0 2500.6 1054.0 2501.5 1055.7 2503.5 C1057.3 2505.4 1057.6 2509.9 1059.0 2510.1 C1060.4 2510.3 1062.2 2505.6 1064.0 2505.1 C1065.5 2504.8 1067.4 2505.8 1068.9 2506.8 C1070.7 2507.9 1072.2 2511.8 1073.9 2511.8 C1075.6 2511.8 1077.4 2508.7 1078.9 2506.8 C1080.5 2504.8 1082.4 2502.4 1083.2 2500.2 C1083.9 2498.2 1083.5 2496.8 1083.8 2494.2 C1084.2 2489.3 1085.4 2478.0 1085.9 2473.1 C1086.1 2470.5 1086.3 2469.1 1086.5 2467.1 C1086.6 2465.1 1086.6 2464.0 1086.7 2461.1 C1087.0 2452.8 1088.2 2421.8 1088.6 2413.5 C1088.7 2410.6 1088.7 2409.5 1088.8 2407.5 C1088.9 2405.5 1088.9 2404.5 1088.9 2401.5 C1089.2 2392.5 1090.1 2356.4 1090.3 2347.4 C1090.4 2344.4 1090.4 2343.4 1090.4 2341.4 C1090.5 2339.4 1090.5 2338.4 1090.6 2335.4 C1090.8 2326.3 1091.7 2290.2 1091.9 2281.2 C1092.0 2278.2 1092.0 2277.2 1092.1 2275.2 C1092.2 2273.2 1092.3 2271.8 1092.4 2269.2 C1092.6 2264.3 1093.2 2253.0 1093.5 2248.1 C1093.6 2245.5 1093.5 2244.5 1093.8 2242.1 C1094.1 2238.5 1094.1 2231.1 1095.4 2228.9 C1096.0 2227.8 1097.1 2227.0 1097.7 2227.2 C1098.7 2227.5 1099.4 2231.6 1099.7 2233.8 C1100.0 2235.8 1099.8 2237.1 1099.9 2239.8 C1100.1 2245.9 1100.6 2263.1 1100.8 2269.2 C1100.9 2271.9 1101.0 2273.2 1101.0 2275.2 C1101.1 2277.2 1101.1 2278.2 1101.2 2281.2 C1101.5 2290.2 1102.6 2326.3 1102.8 2335.4 C1102.9 2338.4 1102.9 2339.4 1103.0 2341.4 C1103.1 2343.4 1103.2 2344.3 1103.3 2347.3 C1103.8 2356.4 1105.6 2392.5 1106.0 2401.5 C1106.2 2404.5 1106.2 2405.5 1106.3 2407.5 C1106.5 2409.5 1106.6 2410.7 1106.8 2413.5 C1107.4 2420.7 1109.2 2444.0 1109.8 2451.2 C1110.0 2454.0 1110.0 2455.2 1110.3 2457.2 C1110.6 2459.1 1110.9 2460.7 1111.4 2463.1 C1112.1 2466.9 1113.4 2473.9 1114.2 2477.7 C1114.6 2480.1 1114.6 2481.2 1115.3 2483.6 C1116.5 2487.8 1119.2 2495.3 1121.9 2500.2 C1124.3 2504.5 1126.9 2508.7 1130.1 2511.8 C1133.1 2514.6 1137.0 2516.6 1140.1 2518.4 C1142.6 2519.8 1145.3 2522.3 1147.4 2521.7 C1149.6 2521.0 1150.8 2513.5 1152.6 2513.4 C1154.4 2513.3 1155.9 2518.9 1158.3 2520.0 C1160.6 2521.1 1164.0 2520.8 1166.5 2520.0 C1169.2 2519.2 1172.0 2517.5 1173.8 2515.1 C1176.0 2512.2 1177.2 2507.2 1178.1 2503.5 C1179.0 2500.3 1179.5 2494.2 1179.5 2494.2" fill="none" stroke="#166d97" stroke-width="8.6" stroke-linejoin="round" stroke-linecap="butt"/>
<circle cx="1179.5" cy="2494.2" r="14" fill="#1a1a1a"/>
<path d="M1375.9 2521.7 C1375.9 2521.7 1378.6 2521.7 1381.9 2521.7 C1398.2 2521.7 1509.8 2521.7 1526.1 2521.7 C1529.4 2521.7 1530.1 2521.7 1532.1 2521.7 C1534.1 2521.7 1535.2 2521.6 1538.1 2521.5 C1545.6 2521.3 1571.4 2520.5 1579.0 2520.2 C1581.9 2520.1 1582.8 2520.6 1585.0 2520.0 C1588.0 2519.3 1592.4 2517.4 1594.9 2515.1 C1597.3 2512.9 1598.2 2509.4 1599.9 2506.8 C1601.5 2504.4 1603.5 2502.8 1604.9 2500.2 C1606.6 2497.0 1607.6 2492.4 1608.8 2488.6 C1610.0 2484.9 1610.5 2478.2 1612.1 2477.7 C1613.3 2477.3 1615.0 2480.3 1616.4 2481.0 C1617.6 2481.6 1618.8 2481.0 1619.7 2482.0 C1621.5 2483.7 1621.9 2489.9 1623.1 2493.6 C1624.1 2497.0 1624.6 2502.9 1626.4 2503.5 C1627.7 2503.9 1629.9 2502.0 1631.3 2500.2 C1633.5 2497.4 1634.9 2491.4 1636.3 2486.9 C1637.6 2482.6 1639.0 2477.3 1639.6 2473.7 C1640.0 2471.3 1639.8 2470.1 1640.0 2467.7 C1640.2 2463.9 1640.6 2457.0 1640.9 2453.2 C1641.0 2450.8 1641.0 2449.6 1641.2 2447.2 C1641.6 2443.6 1642.0 2433.6 1643.2 2433.3 C1644.1 2433.2 1645.6 2436.9 1646.5 2439.0 C1647.6 2441.3 1647.9 2446.2 1649.2 2446.6 C1650.1 2446.8 1651.6 2443.6 1652.5 2443.9 C1653.9 2444.4 1654.3 2450.3 1655.1 2453.9 C1656.1 2457.9 1657.0 2462.4 1657.8 2467.1 C1658.7 2472.3 1659.6 2483.6 1660.4 2483.6 C1661.2 2483.6 1661.0 2471.9 1662.8 2470.4 C1663.6 2469.7 1665.2 2469.8 1666.1 2470.4 C1667.3 2471.3 1667.6 2474.6 1668.4 2477.0 C1669.3 2479.8 1669.9 2486.2 1671.0 2486.3 C1672.4 2486.3 1675.0 2477.2 1676.0 2473.7 C1676.6 2471.4 1676.6 2470.2 1677.0 2467.8 C1677.6 2464.0 1678.7 2456.9 1679.3 2453.2 C1679.7 2450.7 1680.1 2449.2 1680.3 2447.2 C1680.5 2445.3 1680.6 2444.0 1680.8 2441.3 C1681.3 2435.4 1682.6 2419.4 1683.1 2413.5 C1683.3 2410.8 1683.5 2409.5 1683.6 2407.5 C1683.7 2405.5 1683.8 2404.3 1683.9 2401.5 C1684.2 2395.2 1685.0 2376.8 1685.3 2370.5 C1685.4 2367.7 1685.2 2364.6 1685.6 2364.5 C1686.0 2364.5 1687.2 2371.2 1687.6 2371.1 C1687.9 2371.1 1687.8 2367.7 1688.0 2365.1 C1688.3 2360.8 1688.9 2351.7 1689.2 2347.3 C1689.3 2344.8 1689.5 2343.3 1689.6 2341.4 C1689.7 2339.4 1689.7 2338.2 1689.8 2335.4 C1690.1 2328.2 1691.0 2304.9 1691.3 2297.7 C1691.4 2294.9 1691.5 2293.7 1691.5 2291.7 C1691.6 2289.7 1691.7 2288.3 1691.8 2285.7 C1692.0 2281.1 1692.4 2270.9 1692.6 2266.3 C1692.7 2263.7 1692.2 2261.6 1692.9 2260.3 C1693.3 2259.4 1694.3 2258.4 1694.9 2258.6 C1696.2 2259.2 1696.1 2269.7 1696.8 2275.2 C1697.6 2280.7 1697.5 2288.4 1699.2 2291.7 C1700.0 2293.5 1701.7 2295.3 1702.5 2295.0 C1703.6 2294.6 1703.5 2285.1 1704.1 2285.1 C1704.9 2285.1 1706.0 2297.5 1706.4 2301.6 C1706.7 2304.1 1706.7 2305.3 1706.9 2307.6 C1707.1 2310.8 1707.4 2315.7 1707.7 2318.8 C1707.8 2321.1 1707.9 2322.8 1708.1 2324.8 C1708.2 2326.8 1708.4 2328.4 1708.5 2330.8 C1708.8 2334.6 1709.3 2341.5 1709.6 2345.3 C1709.8 2347.7 1710.0 2351.3 1710.1 2351.3 C1710.2 2351.3 1710.2 2348.2 1710.2 2345.3 C1710.5 2337.0 1711.3 2306.0 1711.6 2297.7 C1711.6 2294.8 1711.7 2293.7 1711.7 2291.7 C1711.8 2289.7 1711.8 2288.5 1711.9 2285.7 C1712.1 2279.5 1712.7 2261.3 1712.9 2255.0 C1713.0 2252.3 1712.8 2249.1 1713.1 2249.0 C1713.3 2249.0 1714.2 2253.8 1714.7 2257.0 C1715.5 2261.8 1716.4 2270.7 1716.7 2275.2 C1716.9 2277.7 1716.7 2278.1 1716.8 2281.2 C1717.0 2291.5 1717.7 2338.3 1717.9 2348.6 C1718.0 2351.7 1718.0 2352.6 1718.0 2354.6 C1718.1 2356.6 1718.1 2357.8 1718.2 2360.6 C1718.4 2367.3 1719.0 2388.2 1719.2 2394.9 C1719.2 2397.7 1719.2 2398.9 1719.3 2400.9 C1719.4 2402.9 1719.6 2404.5 1719.8 2406.9 C1720.1 2410.7 1720.6 2417.6 1720.9 2421.4 C1721.1 2423.8 1720.9 2425.0 1721.3 2427.4 C1722.0 2431.0 1724.8 2437.1 1725.6 2440.6 C1726.2 2443.0 1726.3 2444.4 1726.6 2446.5 C1727.0 2449.0 1727.5 2452.1 1727.9 2454.6 C1728.3 2456.7 1728.5 2458.5 1728.9 2460.5 C1729.3 2462.4 1729.9 2464.2 1730.4 2466.3 C1731.0 2468.8 1731.8 2472.0 1732.4 2474.5 C1733.0 2476.6 1733.3 2477.8 1733.9 2480.3 C1735.0 2484.7 1736.8 2493.3 1738.9 2498.5 C1740.5 2502.7 1742.9 2509.5 1744.5 2509.4 C1745.9 2509.3 1747.2 2503.0 1747.8 2500.2 C1748.3 2498.0 1748.1 2497.0 1748.3 2494.2 C1748.8 2487.9 1750.4 2469.5 1750.9 2463.1 C1751.2 2460.4 1751.3 2459.2 1751.4 2457.2 C1751.6 2455.2 1751.6 2454.0 1751.7 2451.2 C1752.0 2444.0 1752.9 2420.7 1753.2 2413.5 C1753.3 2410.7 1753.4 2409.5 1753.4 2407.5 C1753.5 2405.5 1753.5 2404.5 1753.6 2401.5 C1753.8 2392.5 1754.7 2356.4 1754.9 2347.4 C1755.0 2344.4 1755.0 2343.4 1755.1 2341.4 C1755.1 2339.4 1755.1 2338.4 1755.2 2335.4 C1755.4 2326.3 1756.1 2290.2 1756.3 2281.2 C1756.3 2278.2 1756.3 2277.2 1756.4 2275.2 C1756.5 2273.2 1756.6 2271.5 1756.7 2269.2 C1756.9 2266.0 1757.2 2261.2 1757.4 2258.0 C1757.5 2255.7 1757.6 2254.5 1757.7 2252.0 C1758.0 2247.8 1758.5 2239.0 1759.0 2234.8 C1759.3 2232.3 1759.7 2228.8 1760.0 2228.9 C1760.5 2228.9 1761.1 2240.7 1761.4 2244.7 C1761.5 2247.2 1761.4 2247.9 1761.5 2250.7 C1761.7 2257.6 1762.3 2278.9 1762.5 2285.7 C1762.6 2288.6 1762.6 2289.7 1762.7 2291.7 C1762.7 2293.7 1762.7 2294.9 1762.8 2297.7 C1762.9 2304.9 1763.4 2328.2 1763.6 2335.4 C1763.6 2338.2 1763.6 2339.4 1763.7 2341.4 C1763.7 2343.4 1763.7 2344.1 1763.8 2347.4 C1763.9 2361.5 1765.1 2446.9 1765.3 2461.1 C1765.3 2464.3 1765.3 2467.1 1765.3 2467.1 C1765.4 2467.1 1765.4 2464.0 1765.6 2461.1 C1765.9 2452.8 1767.1 2421.8 1767.4 2413.5 C1767.5 2410.6 1767.6 2407.5 1767.6 2407.5 C1767.7 2407.5 1767.7 2410.7 1767.8 2413.5 C1768.0 2420.7 1768.6 2444.0 1768.8 2451.2 C1768.9 2454.0 1768.9 2457.2 1769.0 2457.2 C1769.0 2457.2 1769.1 2454.3 1769.2 2451.2 C1769.5 2440.5 1771.1 2391.1 1771.4 2380.4 C1771.5 2377.3 1771.6 2374.4 1771.6 2374.4 C1771.7 2374.4 1771.7 2377.4 1771.8 2380.4 C1772.1 2389.5 1773.2 2425.6 1773.4 2434.6 C1773.5 2437.6 1773.5 2438.6 1773.6 2440.6 C1773.7 2442.6 1773.9 2444.1 1774.0 2446.6 C1774.3 2450.7 1774.9 2458.7 1775.2 2462.8 C1775.3 2465.2 1775.3 2468.7 1775.6 2468.7 C1776.0 2468.8 1777.2 2460.4 1777.6 2460.5 C1777.9 2460.5 1777.8 2463.9 1778.0 2466.5 C1778.3 2470.8 1778.9 2479.9 1779.2 2484.3 C1779.3 2486.8 1779.2 2487.8 1779.6 2490.2 C1780.2 2494.4 1781.3 2502.7 1783.5 2506.8 C1785.2 2509.8 1787.6 2511.4 1790.1 2513.4 C1793.0 2515.6 1796.6 2518.3 1800.1 2519.4 C1803.3 2520.4 1807.5 2521.2 1810.0 2520.0 C1812.3 2519.0 1813.5 2513.3 1815.0 2513.4 C1816.3 2513.5 1817.2 2519.4 1818.3 2519.4 C1819.4 2519.3 1820.2 2512.0 1821.6 2511.8 C1822.8 2511.6 1824.3 2515.1 1825.9 2516.7 C1827.6 2518.4 1829.4 2521.1 1831.5 2521.7 C1833.5 2522.3 1836.3 2522.1 1838.1 2520.7 C1840.6 2518.7 1843.2 2508.4 1843.2 2508.4" fill="none" stroke="#166d97" stroke-width="8.6" stroke-linejoin="round" stroke-linecap="butt"/>
<circle cx="1843.2" cy="2508.4" r="14" fill="#1a1a1a"/>
<path d="M2039.9 2521.7 C2039.9 2521.7 2043.2 2521.7 2045.9 2521.7 C2051.8 2521.7 2067.8 2521.7 2073.6 2521.7 C2076.4 2521.7 2077.6 2522.3 2079.6 2521.7 C2082.3 2520.9 2085.0 2516.5 2087.9 2516.1 C2090.6 2515.6 2093.5 2518.6 2096.2 2518.4 C2098.7 2518.2 2101.3 2514.7 2103.5 2515.1 C2105.7 2515.4 2106.8 2519.7 2109.4 2520.7 C2112.8 2521.9 2119.1 2521.0 2122.6 2520.0 C2125.3 2519.3 2127.4 2518.4 2129.3 2516.7 C2131.4 2514.8 2132.5 2510.7 2134.2 2508.4 C2135.6 2506.7 2137.1 2504.2 2138.5 2504.1 C2140.0 2504.1 2141.4 2508.2 2143.2 2508.4 C2145.0 2508.7 2147.1 2505.5 2149.1 2505.1 C2151.0 2504.8 2153.3 2505.1 2155.1 2506.1 C2157.2 2507.4 2158.4 2511.1 2160.7 2512.8 C2163.0 2514.4 2166.1 2515.1 2169.0 2516.1 C2172.1 2517.0 2175.4 2517.8 2178.9 2518.4 C2182.6 2519.0 2187.4 2520.4 2190.5 2519.4 C2193.0 2518.5 2194.4 2514.1 2196.4 2514.1 C2198.3 2514.0 2199.9 2517.3 2202.1 2518.4 C2204.5 2519.6 2207.3 2520.6 2210.3 2520.7 C2213.9 2520.8 2218.5 2519.7 2221.9 2518.4 C2225.0 2517.2 2228.2 2515.5 2230.2 2513.4 C2231.9 2511.6 2231.8 2508.2 2233.5 2506.8 C2235.1 2505.5 2238.1 2505.2 2240.1 2505.1 C2241.9 2505.1 2243.5 2506.4 2245.1 2506.1 C2246.8 2505.9 2248.5 2503.2 2250.0 2503.5 C2251.8 2503.8 2253.3 2509.3 2255.0 2509.4 C2256.6 2509.6 2258.3 2506.7 2260.0 2505.1 C2261.6 2503.6 2263.5 2500.0 2264.9 2500.2 C2266.5 2500.4 2267.6 2504.8 2268.9 2506.8 C2270.0 2508.6 2271.2 2511.9 2272.2 2511.8 C2273.9 2511.5 2275.7 2500.7 2276.5 2496.9 C2277.0 2494.5 2277.0 2493.4 2277.4 2490.9 C2278.0 2486.6 2279.3 2477.4 2280.0 2473.0 C2280.3 2470.5 2280.6 2469.1 2280.8 2467.1 C2281.0 2465.1 2281.1 2463.9 2281.3 2461.1 C2281.8 2454.8 2283.2 2436.4 2283.7 2430.1 C2283.9 2427.3 2284.0 2426.1 2284.1 2424.1 C2284.2 2422.1 2284.2 2420.9 2284.3 2418.1 C2284.6 2411.8 2285.3 2393.4 2285.5 2387.1 C2285.6 2384.3 2285.6 2381.1 2285.8 2381.1 C2286.1 2381.1 2287.1 2400.9 2287.4 2400.9 C2287.6 2400.9 2287.6 2397.5 2287.8 2394.9 C2288.1 2390.0 2288.8 2378.7 2289.1 2373.8 C2289.2 2371.2 2289.3 2369.8 2289.4 2367.8 C2289.6 2365.8 2289.7 2364.2 2289.9 2361.8 C2290.2 2358.4 2290.6 2352.5 2290.9 2349.0 C2291.1 2346.6 2290.7 2344.3 2291.4 2343.0 C2291.8 2342.2 2292.8 2341.1 2293.4 2341.4 C2294.8 2341.9 2295.0 2353.7 2295.4 2357.9 C2295.6 2360.4 2295.5 2361.1 2295.6 2363.9 C2295.9 2370.2 2296.8 2388.6 2297.1 2394.9 C2297.2 2397.7 2297.2 2398.9 2297.4 2400.9 C2297.5 2402.9 2297.5 2404.2 2297.7 2406.9 C2298.0 2412.8 2299.0 2428.8 2299.3 2434.6 C2299.5 2437.4 2299.5 2438.6 2299.7 2440.6 C2299.8 2442.6 2300.0 2444.0 2300.3 2446.6 C2300.8 2451.5 2301.9 2462.8 2302.4 2467.7 C2302.6 2470.3 2302.7 2471.7 2303.0 2473.7 C2303.3 2475.7 2303.8 2477.5 2304.2 2479.6 C2304.8 2482.1 2305.5 2485.2 2306.0 2487.7 C2306.5 2489.8 2306.3 2491.7 2307.3 2493.6 C2308.4 2495.8 2311.2 2497.6 2312.9 2500.2 C2314.8 2503.1 2315.6 2509.4 2317.9 2510.1 C2319.7 2510.7 2322.1 2507.0 2324.5 2506.8 C2327.1 2506.6 2329.8 2509.1 2332.8 2509.4 C2335.9 2509.8 2340.1 2509.8 2342.7 2508.4 C2344.9 2507.3 2346.0 2502.8 2347.6 2502.8 C2349.3 2502.8 2350.6 2507.2 2352.6 2508.4 C2354.5 2509.6 2357.1 2509.3 2359.2 2510.1 C2361.5 2510.9 2363.7 2513.5 2365.8 2513.4 C2368.1 2513.3 2370.3 2511.0 2372.5 2509.4 C2375.0 2507.6 2377.7 2502.9 2380.1 2502.8 C2382.0 2502.7 2383.7 2505.5 2385.7 2506.8 C2387.8 2508.2 2390.1 2510.8 2392.3 2510.8 C2394.5 2510.8 2396.7 2507.0 2398.9 2506.8 C2401.1 2506.6 2403.9 2509.5 2405.8 2509.1 C2407.3 2508.8 2408.5 2507.2 2409.7 2505.8 C2411.0 2504.1 2412.1 2501.8 2412.8 2499.5 C2413.7 2496.9 2414.0 2494.2 2414.4 2490.9 C2415.0 2486.5 2415.2 2480.4 2415.6 2475.2 C2415.9 2469.9 2416.2 2464.6 2416.6 2459.4 C2416.9 2454.1 2417.3 2448.9 2417.6 2443.6 C2417.8 2438.4 2418.0 2431.9 2418.2 2427.9 C2418.2 2425.4 2418.2 2424.9 2418.3 2421.9 C2418.4 2412.5 2419.2 2373.3 2419.3 2363.9 C2419.4 2360.9 2419.4 2359.9 2419.4 2357.9 C2419.5 2355.9 2419.5 2354.9 2419.6 2351.9 C2419.8 2342.9 2420.7 2306.7 2421.0 2297.7 C2421.0 2294.7 2421.0 2293.7 2421.1 2291.7 C2421.2 2289.7 2421.2 2288.6 2421.3 2285.7 C2421.6 2278.6 2422.6 2255.2 2422.8 2248.1 C2423.0 2245.2 2422.9 2244.5 2423.1 2242.1 C2423.4 2238.2 2423.6 2227.6 2424.7 2227.2 C2425.2 2227.0 2426.0 2228.0 2426.4 2228.9 C2427.0 2230.2 2426.6 2232.3 2426.7 2234.8 C2427.0 2239.2 2427.5 2248.3 2427.7 2252.6 C2427.9 2255.2 2428.0 2256.6 2428.1 2258.6 C2428.1 2260.6 2428.2 2261.8 2428.3 2264.6 C2428.5 2271.8 2429.3 2295.1 2429.5 2302.3 C2429.6 2305.1 2429.6 2306.3 2429.7 2308.3 C2429.8 2310.3 2429.9 2311.4 2430.0 2314.3 C2430.3 2321.4 2431.4 2344.7 2431.7 2351.9 C2431.9 2354.8 2431.9 2355.9 2432.0 2357.9 C2432.1 2359.9 2432.2 2361.0 2432.4 2363.9 C2432.9 2371.0 2434.5 2394.4 2434.9 2401.5 C2435.1 2404.4 2435.2 2405.5 2435.3 2407.5 C2435.5 2409.5 2435.7 2410.9 2435.9 2413.5 C2436.4 2418.4 2437.6 2429.8 2438.0 2434.6 C2438.3 2437.2 2438.4 2438.6 2438.6 2440.6 C2438.9 2442.6 2439.3 2444.4 2439.6 2446.5 C2440.0 2449.0 2440.6 2452.1 2441.0 2454.6 C2441.3 2456.7 2441.7 2458.5 2441.9 2460.5 C2442.2 2462.4 2442.4 2464.1 2442.7 2466.4 C2443.1 2469.9 2443.9 2475.7 2444.3 2479.1 C2444.6 2481.5 2444.7 2482.7 2445.1 2485.1 C2445.6 2489.0 2446.9 2495.4 2447.7 2500.3 C2448.5 2504.9 2449.1 2509.8 2449.8 2513.7 C2450.2 2516.6 2451.0 2521.5 2451.0 2521.5 L2454.2 2521.5 C2454.2 2521.5 2454.3 2518.2 2454.4 2515.5 C2454.5 2510.0 2455.0 2495.9 2455.2 2490.4 C2455.2 2487.7 2455.3 2484.4 2455.3 2484.4 L2458.4 2484.4 C2458.4 2484.4 2458.4 2488.0 2458.4 2490.4 C2458.4 2494.2 2458.4 2501.2 2458.4 2505.0 C2458.4 2507.4 2458.4 2511.0 2458.4 2511.0 L2464.5 2511.0 L2466.2 2521.5 C2466.2 2521.5 2468.3 2508.3 2469.6 2508.3 C2470.8 2508.3 2473.6 2521.5 2473.6 2521.5 C2473.6 2521.5 2476.8 2516.4 2478.3 2516.3 C2479.6 2516.2 2480.8 2518.9 2482.1 2519.5 C2483.0 2520.0 2485.0 2520.2 2485.0 2520.2 L2499.5 2520.2 C2499.5 2520.2 2501.6 2518.4 2502.5 2516.7 C2504.1 2513.9 2506.9 2503.9 2506.9 2503.9" fill="none" stroke="#166d97" stroke-width="8.6" stroke-linejoin="round" stroke-linecap="butt"/>
<circle cx="2506.9" cy="2503.9" r="14" fill="#1a1a1a"/>
<rect x="0" y="2602.9" width="2666" height="2.9" fill="#000"/>
<rect x="2380.9" y="2623.8" width="71.9" height="71.2" fill="#000"/>
<rect x="2470.7" y="2623.8" width="71.9" height="71.2" fill="#000"/>
<rect x="2560.5" y="2623.8" width="71.9" height="71.2" fill="#000"/>
<text id="tb0" x="2398.26" y="2680" font-size="56.5" font-weight="700" fill="#fff" stroke="#fff" stroke-width="1" textLength="35.93" lengthAdjust="spacingAndGlyphs">B</text>
<text id="tb1" x="2488.22" y="2680" font-size="56.5" font-weight="700" fill="#fff" stroke="#fff" stroke-width="1" textLength="36.38" lengthAdjust="spacingAndGlyphs">B</text>
<text id="tb2" x="2576.38" y="2680" font-size="56.5" font-weight="700" fill="#fff" stroke="#fff" stroke-width="1" textLength="37.15" lengthAdjust="spacingAndGlyphs">C</text>
</svg></body></html>
